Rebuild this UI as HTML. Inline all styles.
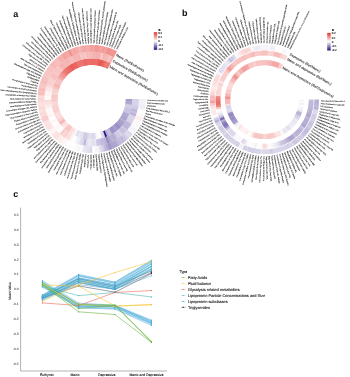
<!DOCTYPE html>
<html><head><meta charset="utf-8"><title>Figure</title>
<style>html,body{margin:0;padding:0;background:#fff}svg{display:block}text{stroke:#111;stroke-width:.1px}.rl text{stroke-width:.08px;stroke:#181818}.rw text{stroke-width:.05px}.pl text{stroke-width:0}.yt text{stroke:#4d4d4d;stroke-width:.08px}</style></head>
<body><svg width="350" height="377" viewBox="0 0 350 377" text-rendering="geometricPrecision">
<defs><filter id="bl" x="0" y="0" width="350" height="377" filterUnits="userSpaceOnUse"><feGaussianBlur stdDeviation="0.32"/></filter><filter id="bl2" x="0" y="0" width="350" height="377" filterUnits="userSpaceOnUse"><feGaussianBlur stdDeviation="0.25"/></filter><filter id="tx" x="0" y="0" width="350" height="377" filterUnits="userSpaceOnUse"><feGaussianBlur stdDeviation="0.15"/></filter></defs>
<rect width="350" height="377" fill="#fff"/>
<g filter="url(#bl)">
<path d="M132.30 99.00A40.6 40.6 0 0 1 132.20 101.88L125.61 101.41A34.0 34.0 0 0 0 125.70 99.00Z" fill="#a79dcc"/>
<path d="M132.25 100.92A40.6 40.6 0 0 1 132.02 103.79L125.46 103.01A34.0 34.0 0 0 0 125.66 100.61Z" fill="#aea5d0"/>
<path d="M132.12 102.83A40.6 40.6 0 0 1 131.75 105.69L125.24 104.60A34.0 34.0 0 0 0 125.55 102.21Z" fill="#b3aad2"/>
<path d="M131.89 104.74A40.6 40.6 0 0 1 131.38 107.57L124.93 106.18A34.0 34.0 0 0 0 125.36 103.81Z" fill="#d0cbe3"/>
<path d="M131.58 106.63A40.6 40.6 0 0 1 130.93 109.44L124.56 107.74A34.0 34.0 0 0 0 125.09 105.39Z" fill="#d2cde4"/>
<path d="M131.17 108.51A40.6 40.6 0 0 1 130.40 111.28L124.11 109.29A34.0 34.0 0 0 0 124.75 106.96Z" fill="#cac4e0"/>
<path d="M130.68 110.36A40.6 40.6 0 0 1 129.77 113.10L123.58 110.81A34.0 34.0 0 0 0 124.34 108.52Z" fill="#c9c3df"/>
<path d="M130.10 112.19A40.6 40.6 0 0 1 129.06 114.88L122.99 112.30A34.0 34.0 0 0 0 123.85 110.05Z" fill="#cac4e0"/>
<path d="M129.43 113.99A40.6 40.6 0 0 1 128.27 116.63L122.33 113.76A34.0 34.0 0 0 0 123.30 111.56Z" fill="#b5add4"/>
<path d="M128.68 115.76A40.6 40.6 0 0 1 127.40 118.34L121.60 115.19A34.0 34.0 0 0 0 122.67 113.04Z" fill="#b3aad2"/>
<path d="M127.85 117.49A40.6 40.6 0 0 1 126.44 120.00L120.80 116.59A34.0 34.0 0 0 0 121.97 114.48Z" fill="#b0a7d1"/>
<path d="M126.93 119.18A40.6 40.6 0 0 1 125.41 121.62L119.93 117.95A34.0 34.0 0 0 0 121.20 115.90Z" fill="#aba1ce"/>
<path d="M125.94 120.82A40.6 40.6 0 0 1 124.31 123.19L119.01 119.26A34.0 34.0 0 0 0 120.37 117.27Z" fill="#b8b0d5"/>
<path d="M124.87 122.41A40.6 40.6 0 0 1 123.13 124.71L118.02 120.53A34.0 34.0 0 0 0 119.48 118.61Z" fill="#aea5cf"/>
<path d="M123.72 123.96A40.6 40.6 0 0 1 121.88 126.16L116.97 121.75A34.0 34.0 0 0 0 118.52 119.90Z" fill="#a89ecc"/>
<path d="M122.51 125.44A40.6 40.6 0 0 1 120.56 127.56L115.87 122.92A34.0 34.0 0 0 0 117.50 121.14Z" fill="#aba2ce"/>
<path d="M121.23 126.87A40.6 40.6 0 0 1 119.18 128.89L114.71 124.03A34.0 34.0 0 0 0 116.43 122.34Z" fill="#9b90c4"/>
<path d="M119.88 128.23A40.6 40.6 0 0 1 117.73 130.16L113.50 125.09A34.0 34.0 0 0 0 115.30 123.48Z" fill="#9c91c5"/>
<path d="M118.46 129.53A40.6 40.6 0 0 1 116.23 131.35L112.24 126.09A34.0 34.0 0 0 0 114.11 124.57Z" fill="#a99fcc"/>
<path d="M116.99 130.76A40.6 40.6 0 0 1 114.67 132.47L110.94 127.03A34.0 34.0 0 0 0 112.88 125.60Z" fill="#a79dcb"/>
<path d="M115.46 131.92A40.6 40.6 0 0 1 113.07 133.52L109.59 127.91A34.0 34.0 0 0 0 111.60 126.57Z" fill="#9f94c7"/>
<path d="M113.88 133.01A40.6 40.6 0 0 1 111.41 134.49L108.21 128.72A34.0 34.0 0 0 0 110.27 127.48Z" fill="#a095c7"/>
<path d="M112.24 134.02A40.6 40.6 0 0 1 109.71 135.39L106.78 129.47A34.0 34.0 0 0 0 108.91 128.33Z" fill="#c2bbdb"/>
<path d="M110.57 134.95A40.6 40.6 0 0 1 107.97 136.20L105.33 130.15A34.0 34.0 0 0 0 107.50 129.11Z" fill="#c7c1de"/>
<path d="M108.85 135.80A40.6 40.6 0 0 1 106.20 136.92L103.84 130.76A34.0 34.0 0 0 0 106.06 129.82Z" fill="#b4acd3"/>
<path d="M107.09 136.57A40.6 40.6 0 0 1 104.39 137.57L102.32 131.30A34.0 34.0 0 0 0 104.59 130.46Z" fill="#2b1483"/>
<path d="M105.30 137.26A40.6 40.6 0 0 1 102.55 138.12L100.79 131.76A34.0 34.0 0 0 0 103.09 131.04Z" fill="#dad6e9"/>
<path d="M103.47 137.86A40.6 40.6 0 0 1 100.69 138.59L99.23 132.16A34.0 34.0 0 0 0 101.56 131.54Z" fill="#e6e3f0"/>
<path d="M101.62 138.37A40.6 40.6 0 0 1 98.81 138.97L97.65 132.47A34.0 34.0 0 0 0 100.01 131.97Z" fill="#ffffff"/>
<path d="M99.75 138.79A40.6 40.6 0 0 1 96.91 139.26L96.06 132.72A34.0 34.0 0 0 0 98.44 132.32Z" fill="#fef9f9"/>
<path d="M97.86 139.13A40.6 40.6 0 0 1 95.00 139.47L94.46 132.89A34.0 34.0 0 0 0 96.86 132.61Z" fill="#f7f6fa"/>
<path d="M95.96 139.38A40.6 40.6 0 0 1 93.08 139.58L92.86 132.98A34.0 34.0 0 0 0 95.26 132.81Z" fill="#e0dced"/>
<path d="M94.04 139.53A40.6 40.6 0 0 1 91.17 139.60L91.25 133.00A34.0 34.0 0 0 0 93.66 132.94Z" fill="#dbd7ea"/>
<path d="M92.13 139.60A40.6 40.6 0 0 1 89.25 139.53L89.65 132.94A34.0 34.0 0 0 0 92.06 133.00Z" fill="#dedbec"/>
<path d="M90.21 139.57A40.6 40.6 0 0 1 87.33 139.36L88.04 132.80A34.0 34.0 0 0 0 90.45 132.98Z" fill="#e6e3f0"/>
<path d="M88.29 139.46A40.6 40.6 0 0 1 85.43 139.11L86.45 132.59A34.0 34.0 0 0 0 88.84 132.88Z" fill="#d4cfe6"/>
<path d="M86.38 139.25A40.6 40.6 0 0 1 83.54 138.77L84.87 132.31A34.0 34.0 0 0 0 87.25 132.71Z" fill="#d3cee5"/>
<path d="M84.49 138.95A40.6 40.6 0 0 1 81.67 138.34L83.30 131.95A34.0 34.0 0 0 0 85.66 132.46Z" fill="#d0cae3"/>
<path d="M82.60 138.57A40.6 40.6 0 0 1 79.82 137.82L81.75 131.51A34.0 34.0 0 0 0 84.08 132.14Z" fill="#e6e3f0"/>
<path d="M80.74 138.09A40.6 40.6 0 0 1 78.00 137.22L80.23 131.01A34.0 34.0 0 0 0 82.53 131.74Z" fill="#e5e3f0"/>
<path d="M78.91 137.53A40.6 40.6 0 0 1 76.21 136.53L78.73 130.43A34.0 34.0 0 0 0 80.99 131.27Z" fill="#eae7f3"/>
<path d="M77.10 136.88A40.6 40.6 0 0 1 74.45 135.76L77.26 129.78A34.0 34.0 0 0 0 79.48 130.73Z" fill="#e0dded"/>
<path d="M75.33 136.15A40.6 40.6 0 0 1 72.74 134.90L75.82 129.06A34.0 34.0 0 0 0 77.99 130.11Z" fill="#f7f6fa"/>
<path d="M73.59 135.34A40.6 40.6 0 0 1 71.06 133.96L74.42 128.28A34.0 34.0 0 0 0 76.53 129.43Z" fill="#fdeeed"/>
<path d="M71.89 134.44A40.6 40.6 0 0 1 69.43 132.95L73.05 127.43A34.0 34.0 0 0 0 75.11 128.68Z" fill="#fbe2e1"/>
<path d="M70.24 133.46A40.6 40.6 0 0 1 67.85 131.86L71.73 126.52A34.0 34.0 0 0 0 73.73 127.86Z" fill="#fbe0df"/>
<path d="M68.63 132.41A40.6 40.6 0 0 1 66.33 130.69L70.45 125.54A34.0 34.0 0 0 0 72.38 126.98Z" fill="#f8c8c6"/>
<path d="M67.08 131.28A40.6 40.6 0 0 1 64.86 129.46L69.22 124.51A34.0 34.0 0 0 0 71.08 126.04Z" fill="#f7c5c3"/>
<path d="M65.58 130.08A40.6 40.6 0 0 1 63.45 128.16L68.04 123.42A34.0 34.0 0 0 0 69.83 125.03Z" fill="#f8cac8"/>
<path d="M64.14 128.82A40.6 40.6 0 0 1 62.10 126.79L66.91 122.27A34.0 34.0 0 0 0 68.62 123.97Z" fill="#fce8e7"/>
<path d="M62.76 127.48A40.6 40.6 0 0 1 60.82 125.36L65.84 121.07A34.0 34.0 0 0 0 67.47 122.85Z" fill="#fbe3e2"/>
<path d="M61.45 126.08A40.6 40.6 0 0 1 59.61 123.87L64.82 119.83A34.0 34.0 0 0 0 66.37 121.68Z" fill="#f9d6d5"/>
<path d="M60.20 124.62A40.6 40.6 0 0 1 58.47 122.32L63.87 118.53A34.0 34.0 0 0 0 65.32 120.46Z" fill="#f5b2b0"/>
<path d="M59.03 123.10A40.6 40.6 0 0 1 57.40 120.73L62.98 117.20A34.0 34.0 0 0 0 64.34 119.18Z" fill="#f8cdcb"/>
<path d="M57.93 121.53A40.6 40.6 0 0 1 56.41 119.08L62.15 115.82A34.0 34.0 0 0 0 63.42 117.87Z" fill="#f9d3d2"/>
<path d="M56.90 119.91A40.6 40.6 0 0 1 55.50 117.39L61.39 114.40A34.0 34.0 0 0 0 62.56 116.51Z" fill="#fbdfde"/>
<path d="M55.95 118.24A40.6 40.6 0 0 1 54.68 115.66L60.69 112.95A34.0 34.0 0 0 0 61.76 115.11Z" fill="#fadcdb"/>
<path d="M55.08 116.53A40.6 40.6 0 0 1 53.93 113.89L60.07 111.47A34.0 34.0 0 0 0 61.03 113.68Z" fill="#fbdedd"/>
<path d="M54.29 114.78A40.6 40.6 0 0 1 53.27 112.09L59.52 109.96A34.0 34.0 0 0 0 60.37 112.22Z" fill="#fadcdb"/>
<path d="M53.59 112.99A40.6 40.6 0 0 1 52.69 110.26L59.03 108.43A34.0 34.0 0 0 0 59.78 110.72Z" fill="#f8cfcd"/>
<path d="M52.97 111.18A40.6 40.6 0 0 1 52.20 108.40L58.62 106.87A34.0 34.0 0 0 0 59.27 109.20Z" fill="#f9d3d2"/>
<path d="M52.44 109.33A40.6 40.6 0 0 1 51.80 106.53L58.29 105.30A34.0 34.0 0 0 0 58.82 107.65Z" fill="#f9d1d0"/>
<path d="M51.99 107.47A40.6 40.6 0 0 1 51.49 104.63L58.03 103.72A34.0 34.0 0 0 0 58.45 106.09Z" fill="#f9d2d1"/>
<path d="M51.64 105.58A40.6 40.6 0 0 1 51.27 102.72L57.84 102.12A34.0 34.0 0 0 0 58.15 104.51Z" fill="#fadad9"/>
<path d="M51.37 103.68A40.6 40.6 0 0 1 51.14 100.81L57.73 100.52A34.0 34.0 0 0 0 57.93 102.92Z" fill="#fad8d7"/>
<path d="M51.19 101.77A40.6 40.6 0 0 1 51.10 98.89L57.70 98.91A34.0 34.0 0 0 0 57.78 101.32Z" fill="#f8cbc9"/>
<path d="M51.11 99.85A40.6 40.6 0 0 1 51.15 96.97L57.74 97.30A34.0 34.0 0 0 0 57.71 99.71Z" fill="#f8cbc9"/>
<path d="M51.11 97.93A40.6 40.6 0 0 1 51.29 95.06L57.86 95.70A34.0 34.0 0 0 0 57.71 98.10Z" fill="#f8cac8"/>
<path d="M51.21 96.01A40.6 40.6 0 0 1 51.52 93.15L58.05 94.10A34.0 34.0 0 0 0 57.79 96.50Z" fill="#f8c8c6"/>
<path d="M51.40 94.10A40.6 40.6 0 0 1 51.84 91.26L58.32 92.52A34.0 34.0 0 0 0 57.95 94.90Z" fill="#fadad9"/>
<path d="M51.67 92.20A40.6 40.6 0 0 1 52.26 89.38L58.67 90.95A34.0 34.0 0 0 0 58.18 93.31Z" fill="#f9d3d2"/>
<path d="M52.04 90.32A40.6 40.6 0 0 1 52.75 87.53L59.08 89.40A34.0 34.0 0 0 0 58.49 91.73Z" fill="#f9d2d0"/>
<path d="M52.49 88.45A40.6 40.6 0 0 1 53.34 85.70L59.58 87.86A34.0 34.0 0 0 0 58.87 90.17Z" fill="#f7c7c5"/>
<path d="M53.04 86.61A40.6 40.6 0 0 1 54.01 83.90L60.14 86.36A34.0 34.0 0 0 0 59.32 88.63Z" fill="#f5b8b6"/>
<path d="M53.66 84.80A40.6 40.6 0 0 1 54.77 82.14L60.77 84.88A34.0 34.0 0 0 0 59.85 87.11Z" fill="#f5b6b4"/>
<path d="M54.38 83.02A40.6 40.6 0 0 1 55.60 80.41L61.47 83.43A34.0 34.0 0 0 0 60.45 85.62Z" fill="#f7c6c4"/>
<path d="M55.18 81.27A40.6 40.6 0 0 1 56.52 78.73L62.24 82.02A34.0 34.0 0 0 0 61.11 84.15Z" fill="#f7c1bf"/>
<path d="M56.05 79.57A40.6 40.6 0 0 1 57.52 77.09L63.08 80.65A34.0 34.0 0 0 0 61.85 82.72Z" fill="#f7c6c4"/>
<path d="M57.01 77.90A40.6 40.6 0 0 1 58.59 75.50L63.98 79.32A34.0 34.0 0 0 0 62.65 81.33Z" fill="#f5b1af"/>
<path d="M58.05 76.29A40.6 40.6 0 0 1 59.74 73.96L64.94 78.03A34.0 34.0 0 0 0 63.52 79.98Z" fill="#f3a4a2"/>
<path d="M59.16 74.72A40.6 40.6 0 0 1 60.96 72.48L65.96 76.79A34.0 34.0 0 0 0 64.45 78.67Z" fill="#f19996"/>
<path d="M60.34 73.21A40.6 40.6 0 0 1 62.25 71.05L67.04 75.60A34.0 34.0 0 0 0 65.44 77.40Z" fill="#f09390"/>
<path d="M61.60 71.76A40.6 40.6 0 0 1 63.60 69.69L68.17 74.46A34.0 34.0 0 0 0 66.49 76.19Z" fill="#ee817d"/>
<path d="M62.92 70.36A40.6 40.6 0 0 1 65.02 68.40L69.36 73.37A34.0 34.0 0 0 0 67.60 75.02Z" fill="#ed7874"/>
<path d="M64.30 69.04A40.6 40.6 0 0 1 66.50 67.17L70.59 72.34A34.0 34.0 0 0 0 68.76 73.91Z" fill="#ec706c"/>
<path d="M65.75 67.77A40.6 40.6 0 0 1 68.03 66.01L71.88 71.38A34.0 34.0 0 0 0 69.97 72.85Z" fill="#eb6d69"/>
<path d="M67.26 66.58A40.6 40.6 0 0 1 69.61 64.93L73.20 70.47A34.0 34.0 0 0 0 71.23 71.85Z" fill="#eb6a66"/>
<path d="M68.82 65.46A40.6 40.6 0 0 1 71.25 63.93L74.57 69.63A34.0 34.0 0 0 0 72.54 70.92Z" fill="#ea605c"/>
<path d="M70.43 64.42A40.6 40.6 0 0 1 72.93 63.00L75.98 68.85A34.0 34.0 0 0 0 73.88 70.04Z" fill="#e95c57"/>
<path d="M72.08 63.45A40.6 40.6 0 0 1 74.65 62.15L77.42 68.14A34.0 34.0 0 0 0 75.27 69.23Z" fill="#ea6763"/>
<path d="M73.79 62.57A40.6 40.6 0 0 1 76.41 61.39L78.90 67.50A34.0 34.0 0 0 0 76.70 68.49Z" fill="#ea635f"/>
<path d="M75.53 61.76A40.6 40.6 0 0 1 78.21 60.71L80.40 66.93A34.0 34.0 0 0 0 78.16 67.81Z" fill="#ec746f"/>
<path d="M77.31 61.04A40.6 40.6 0 0 1 80.03 60.11L81.93 66.43A34.0 34.0 0 0 0 79.65 67.21Z" fill="#ec7470"/>
<path d="M79.12 60.40A40.6 40.6 0 0 1 81.88 59.60L83.48 66.01A34.0 34.0 0 0 0 81.16 66.67Z" fill="#ec7571"/>
<path d="M80.96 59.85A40.6 40.6 0 0 1 83.76 59.18L85.05 65.66A34.0 34.0 0 0 0 82.70 66.21Z" fill="#ec726e"/>
<path d="M82.82 59.38A40.6 40.6 0 0 1 85.65 58.85L86.63 65.38A34.0 34.0 0 0 0 84.26 65.82Z" fill="#eb6964"/>
<path d="M84.70 59.01A40.6 40.6 0 0 1 87.55 58.61L88.23 65.18A34.0 34.0 0 0 0 85.84 65.51Z" fill="#eb6864"/>
<path d="M86.60 58.72A40.6 40.6 0 0 1 89.47 58.46L89.83 65.05A34.0 34.0 0 0 0 87.43 65.27Z" fill="#eb6e6a"/>
<path d="M88.51 58.53A40.6 40.6 0 0 1 91.38 58.40L91.44 65.00A34.0 34.0 0 0 0 89.03 65.11Z" fill="#eb6e6a"/>
<path d="M90.42 58.42A40.6 40.6 0 0 1 93.30 58.43L93.04 65.03A34.0 34.0 0 0 0 90.63 65.02Z" fill="#eb6b67"/>
<path d="M92.34 58.41A40.6 40.6 0 0 1 95.22 58.55L94.65 65.13A34.0 34.0 0 0 0 92.24 65.00Z" fill="#eb6c68"/>
<path d="M94.26 58.48A40.6 40.6 0 0 1 97.13 58.76L96.24 65.31A34.0 34.0 0 0 0 93.85 65.07Z" fill="#eb6d69"/>
<path d="M96.17 58.65A40.6 40.6 0 0 1 99.02 59.07L97.83 65.56A34.0 34.0 0 0 0 95.45 65.21Z" fill="#eb6f6b"/>
<path d="M98.08 58.90A40.6 40.6 0 0 1 100.90 59.46L99.41 65.88A34.0 34.0 0 0 0 97.04 65.42Z" fill="#e95e59"/>
<path d="M99.96 59.25A40.6 40.6 0 0 1 102.76 59.94L100.96 66.29A34.0 34.0 0 0 0 98.62 65.71Z" fill="#e95954"/>
<path d="M101.83 59.69A40.6 40.6 0 0 1 104.59 60.50L102.50 66.76A34.0 34.0 0 0 0 100.19 66.08Z" fill="#e95d58"/>
<path d="M103.68 60.21A40.6 40.6 0 0 1 106.40 61.15L104.01 67.31A34.0 34.0 0 0 0 101.73 66.51Z" fill="#eb6864"/>
<path d="M105.50 60.82A40.6 40.6 0 0 1 108.17 61.89L105.49 67.92A34.0 34.0 0 0 0 103.26 67.02Z" fill="#ed7875"/>
<path d="M107.29 61.51A40.6 40.6 0 0 1 109.91 62.71L106.95 68.61A34.0 34.0 0 0 0 104.76 67.61Z" fill="#ed7d79"/>
<path d="M109.04 62.29A40.6 40.6 0 0 1 110.76 63.15L107.66 68.98A34.0 34.0 0 0 0 106.23 68.26Z" fill="#ed7d79"/>
<path d="M139.00 99.00A47.3 47.3 0 0 1 138.88 102.35L132.20 101.88A40.6 40.6 0 0 0 132.30 99.00Z" fill="#d7d2e7"/>
<path d="M138.95 101.24A47.3 47.3 0 0 1 138.67 104.58L132.02 103.79A40.6 40.6 0 0 0 132.25 100.92Z" fill="#d8d3e8"/>
<path d="M138.79 103.47A47.3 47.3 0 0 1 138.35 106.79L131.75 105.69A40.6 40.6 0 0 0 132.12 102.83Z" fill="#d7d3e8"/>
<path d="M138.52 105.69A47.3 47.3 0 0 1 137.93 108.99L131.38 107.57A40.6 40.6 0 0 0 131.89 104.74Z" fill="#d2cde5"/>
<path d="M138.16 107.89A47.3 47.3 0 0 1 137.41 111.16L130.93 109.44A40.6 40.6 0 0 0 131.58 106.63Z" fill="#d0cbe4"/>
<path d="M137.68 110.08A47.3 47.3 0 0 1 136.78 113.31L130.40 111.28A40.6 40.6 0 0 0 131.17 108.51Z" fill="#bdb5d8"/>
<path d="M137.11 112.24A47.3 47.3 0 0 1 136.06 115.42L129.77 113.10A40.6 40.6 0 0 0 130.68 110.36Z" fill="#c6bfdd"/>
<path d="M136.43 114.37A47.3 47.3 0 0 1 135.23 117.50L129.06 114.88A40.6 40.6 0 0 0 130.10 112.19Z" fill="#bab3d7"/>
<path d="M135.66 116.47A47.3 47.3 0 0 1 134.31 119.54L128.27 116.63A40.6 40.6 0 0 0 129.43 113.99Z" fill="#d9d5e9"/>
<path d="M134.78 118.53A47.3 47.3 0 0 1 133.29 121.53L127.40 118.34A40.6 40.6 0 0 0 128.68 115.76Z" fill="#d8d4e8"/>
<path d="M133.81 120.54A47.3 47.3 0 0 1 132.18 123.47L126.44 120.00A40.6 40.6 0 0 0 127.85 117.49Z" fill="#d7d3e8"/>
<path d="M132.75 122.51A47.3 47.3 0 0 1 130.98 125.36L125.41 121.62A40.6 40.6 0 0 0 126.93 119.18Z" fill="#d4cfe6"/>
<path d="M131.59 124.42A47.3 47.3 0 0 1 129.69 127.18L124.31 123.19A40.6 40.6 0 0 0 125.94 120.82Z" fill="#beb7d9"/>
<path d="M130.34 126.28A47.3 47.3 0 0 1 128.31 128.95L123.13 124.71A40.6 40.6 0 0 0 124.87 122.41Z" fill="#c1bbdb"/>
<path d="M129.01 128.07A47.3 47.3 0 0 1 126.86 130.64L121.88 126.16A40.6 40.6 0 0 0 123.72 123.96Z" fill="#bcb4d8"/>
<path d="M127.59 129.80A47.3 47.3 0 0 1 125.32 132.27L120.56 127.56A40.6 40.6 0 0 0 122.51 125.44Z" fill="#cfcae3"/>
<path d="M126.10 131.47A47.3 47.3 0 0 1 123.71 133.82L119.18 128.89A40.6 40.6 0 0 0 121.23 126.87Z" fill="#c6bfde"/>
<path d="M124.52 133.06A47.3 47.3 0 0 1 122.03 135.30L117.73 130.16A40.6 40.6 0 0 0 119.88 128.23Z" fill="#cac4e0"/>
<path d="M122.88 134.57A47.3 47.3 0 0 1 120.28 136.69L116.23 131.35A40.6 40.6 0 0 0 118.46 129.53Z" fill="#d8d3e8"/>
<path d="M121.16 136.00A47.3 47.3 0 0 1 118.47 138.00L114.67 132.47A40.6 40.6 0 0 0 116.99 130.76Z" fill="#d1cce4"/>
<path d="M119.38 137.35A47.3 47.3 0 0 1 116.59 139.22L113.07 133.52A40.6 40.6 0 0 0 115.46 131.92Z" fill="#d0cbe3"/>
<path d="M117.54 138.62A47.3 47.3 0 0 1 114.66 140.35L111.41 134.49A40.6 40.6 0 0 0 113.88 133.01Z" fill="#bab2d7"/>
<path d="M115.64 139.80A47.3 47.3 0 0 1 112.68 141.39L109.71 135.39A40.6 40.6 0 0 0 112.24 134.02Z" fill="#b5add4"/>
<path d="M113.68 140.88A47.3 47.3 0 0 1 110.66 142.33L107.97 136.20A40.6 40.6 0 0 0 110.57 134.95Z" fill="#bbb3d7"/>
<path d="M111.68 141.87A47.3 47.3 0 0 1 108.59 143.18L106.20 136.92A40.6 40.6 0 0 0 108.85 135.80Z" fill="#afa6d0"/>
<path d="M109.63 142.77A47.3 47.3 0 0 1 106.48 143.93L104.39 137.57A40.6 40.6 0 0 0 107.09 136.57Z" fill="#988cc3"/>
<path d="M107.54 143.57A47.3 47.3 0 0 1 104.34 144.58L102.55 138.12A40.6 40.6 0 0 0 105.30 137.26Z" fill="#bbb3d7"/>
<path d="M105.41 144.27A47.3 47.3 0 0 1 102.17 145.13L100.69 138.59A40.6 40.6 0 0 0 103.47 137.86Z" fill="#c3bddc"/>
<path d="M103.26 144.87A47.3 47.3 0 0 1 99.98 145.57L98.81 138.97A40.6 40.6 0 0 0 101.62 138.37Z" fill="#c1badb"/>
<path d="M101.08 145.36A47.3 47.3 0 0 1 97.77 145.91L96.91 139.26A40.6 40.6 0 0 0 99.75 138.79Z" fill="#cbc6e1"/>
<path d="M98.88 145.75A47.3 47.3 0 0 1 95.55 146.14L95.00 139.47A40.6 40.6 0 0 0 97.86 139.13Z" fill="#ccc6e1"/>
<path d="M96.66 146.04A47.3 47.3 0 0 1 93.31 146.27L93.08 139.58A40.6 40.6 0 0 0 95.96 139.38Z" fill="#e9e6f2"/>
<path d="M94.43 146.22A47.3 47.3 0 0 1 91.08 146.30L91.17 139.60A40.6 40.6 0 0 0 94.04 139.53Z" fill="#e0dded"/>
<path d="M92.20 146.30A47.3 47.3 0 0 1 88.84 146.21L89.25 139.53A40.6 40.6 0 0 0 92.13 139.60Z" fill="#e9e7f2"/>
<path d="M89.96 146.27A47.3 47.3 0 0 1 86.61 146.03L87.33 139.36A40.6 40.6 0 0 0 90.21 139.57Z" fill="#eae8f3"/>
<path d="M87.73 146.13A47.3 47.3 0 0 1 84.40 145.73L85.43 139.11A40.6 40.6 0 0 0 88.29 139.46Z" fill="#e4e1ef"/>
<path d="M85.50 145.89A47.3 47.3 0 0 1 82.20 145.34L83.54 138.77A40.6 40.6 0 0 0 86.38 139.25Z" fill="#beb7d9"/>
<path d="M83.29 145.55A47.3 47.3 0 0 1 80.02 144.83L81.67 138.34A40.6 40.6 0 0 0 84.49 138.95Z" fill="#dad6ea"/>
<path d="M81.10 145.10A47.3 47.3 0 0 1 77.86 144.23L79.82 137.82A40.6 40.6 0 0 0 82.60 138.57Z" fill="#e2dfee"/>
<path d="M78.94 144.55A47.3 47.3 0 0 1 75.74 143.53L78.00 137.22A40.6 40.6 0 0 0 80.74 138.09Z" fill="#eeecf5"/>
<path d="M76.80 143.89A47.3 47.3 0 0 1 73.65 142.72L76.21 136.53A40.6 40.6 0 0 0 78.91 137.53Z" fill="#f2f0f7"/>
<path d="M74.69 143.14A47.3 47.3 0 0 1 71.61 141.82L74.45 135.76A40.6 40.6 0 0 0 77.10 136.88Z" fill="#ffffff"/>
<path d="M72.63 142.28A47.3 47.3 0 0 1 69.61 140.82L72.74 134.90A40.6 40.6 0 0 0 75.33 136.15Z" fill="#fffefe"/>
<path d="M70.60 141.33A47.3 47.3 0 0 1 67.65 139.73L71.06 133.96A40.6 40.6 0 0 0 73.59 135.34Z" fill="#fdf0ef"/>
<path d="M68.62 140.29A47.3 47.3 0 0 1 65.76 138.55L69.43 132.95A40.6 40.6 0 0 0 71.89 134.44Z" fill="#fbdedd"/>
<path d="M66.70 139.15A47.3 47.3 0 0 1 63.92 137.28L67.85 131.86A40.6 40.6 0 0 0 70.24 133.46Z" fill="#fbdedd"/>
<path d="M64.83 137.93A47.3 47.3 0 0 1 62.14 135.92L66.33 130.69A40.6 40.6 0 0 0 68.63 132.41Z" fill="#f9d0cf"/>
<path d="M63.02 136.61A47.3 47.3 0 0 1 60.43 134.49L64.86 129.46A40.6 40.6 0 0 0 67.08 131.28Z" fill="#fad9d8"/>
<path d="M61.27 135.21A47.3 47.3 0 0 1 58.78 132.97L63.45 128.16A40.6 40.6 0 0 0 65.58 130.08Z" fill="#f8cbc9"/>
<path d="M59.60 133.74A47.3 47.3 0 0 1 57.21 131.37L62.10 126.79A40.6 40.6 0 0 0 64.14 128.82Z" fill="#fefafa"/>
<path d="M57.99 132.18A47.3 47.3 0 0 1 55.72 129.71L60.82 125.36A40.6 40.6 0 0 0 62.76 127.48Z" fill="#fffdfd"/>
<path d="M56.46 130.55A47.3 47.3 0 0 1 54.31 127.97L59.61 123.87A40.6 40.6 0 0 0 61.45 126.08Z" fill="#fef6f6"/>
<path d="M55.01 128.85A47.3 47.3 0 0 1 52.98 126.17L58.47 122.32A40.6 40.6 0 0 0 60.20 124.62Z" fill="#fef8f7"/>
<path d="M53.64 127.08A47.3 47.3 0 0 1 51.74 124.31L57.40 120.73A40.6 40.6 0 0 0 59.03 123.10Z" fill="#fefefe"/>
<path d="M52.35 125.25A47.3 47.3 0 0 1 50.59 122.40L56.41 119.08A40.6 40.6 0 0 0 57.93 121.53Z" fill="#fcfbfd"/>
<path d="M51.16 123.36A47.3 47.3 0 0 1 49.53 120.43L55.50 117.39A40.6 40.6 0 0 0 56.90 119.91Z" fill="#fef6f5"/>
<path d="M50.05 121.42A47.3 47.3 0 0 1 48.57 118.41L54.68 115.66A40.6 40.6 0 0 0 55.95 118.24Z" fill="#fefeff"/>
<path d="M49.04 119.42A47.3 47.3 0 0 1 47.70 116.35L53.93 113.89A40.6 40.6 0 0 0 55.08 116.53Z" fill="#fffcfc"/>
<path d="M48.12 117.38A47.3 47.3 0 0 1 46.93 114.25L53.27 112.09A40.6 40.6 0 0 0 54.29 114.78Z" fill="#fdf2f1"/>
<path d="M47.30 115.30A47.3 47.3 0 0 1 46.26 112.12L52.69 110.26A40.6 40.6 0 0 0 53.59 112.99Z" fill="#fef9f9"/>
<path d="M46.58 113.19A47.3 47.3 0 0 1 45.69 109.95L52.20 108.40A40.6 40.6 0 0 0 52.97 111.18Z" fill="#fef9f9"/>
<path d="M45.96 111.04A47.3 47.3 0 0 1 45.22 107.77L51.80 106.53A40.6 40.6 0 0 0 52.44 109.33Z" fill="#fef9f8"/>
<path d="M45.44 108.86A47.3 47.3 0 0 1 44.86 105.56L51.49 104.63A40.6 40.6 0 0 0 51.99 107.47Z" fill="#fdefee"/>
<path d="M45.03 106.67A47.3 47.3 0 0 1 44.60 103.34L51.27 102.72A40.6 40.6 0 0 0 51.64 105.58Z" fill="#fce9e8"/>
<path d="M44.72 104.45A47.3 47.3 0 0 1 44.45 101.11L51.14 100.81A40.6 40.6 0 0 0 51.37 103.68Z" fill="#fbe2e1"/>
<path d="M44.51 102.22A47.3 47.3 0 0 1 44.40 98.87L51.10 98.89A40.6 40.6 0 0 0 51.19 101.77Z" fill="#fadcdb"/>
<path d="M44.41 99.99A47.3 47.3 0 0 1 44.46 96.64L51.15 96.97A40.6 40.6 0 0 0 51.11 99.85Z" fill="#fffcfc"/>
<path d="M44.42 97.75A47.3 47.3 0 0 1 44.62 94.41L51.29 95.06A40.6 40.6 0 0 0 51.11 97.93Z" fill="#fefafa"/>
<path d="M44.53 95.52A47.3 47.3 0 0 1 44.89 92.19L51.52 93.15A40.6 40.6 0 0 0 51.21 96.01Z" fill="#fef4f4"/>
<path d="M44.75 93.30A47.3 47.3 0 0 1 45.27 89.98L51.84 91.26A40.6 40.6 0 0 0 51.40 94.10Z" fill="#fef4f4"/>
<path d="M45.07 91.08A47.3 47.3 0 0 1 45.75 87.80L52.26 89.38A40.6 40.6 0 0 0 51.67 92.20Z" fill="#fceaea"/>
<path d="M45.49 88.89A47.3 47.3 0 0 1 46.33 85.64L52.75 87.53A40.6 40.6 0 0 0 52.04 90.32Z" fill="#fce5e5"/>
<path d="M46.02 86.71A47.3 47.3 0 0 1 47.01 83.51L53.34 85.70A40.6 40.6 0 0 0 52.49 88.45Z" fill="#fad9d8"/>
<path d="M46.66 84.57A47.3 47.3 0 0 1 47.79 81.41L54.01 83.90A40.6 40.6 0 0 0 53.04 86.61Z" fill="#f9d0cf"/>
<path d="M47.39 82.46A47.3 47.3 0 0 1 48.67 79.36L54.77 82.14A40.6 40.6 0 0 0 53.66 84.80Z" fill="#f9cfce"/>
<path d="M48.22 80.38A47.3 47.3 0 0 1 49.65 77.35L55.60 80.41A40.6 40.6 0 0 0 54.38 83.02Z" fill="#f9d3d2"/>
<path d="M49.15 78.35A47.3 47.3 0 0 1 50.72 75.38L56.52 78.73A40.6 40.6 0 0 0 55.18 81.27Z" fill="#f8cac8"/>
<path d="M50.17 76.36A47.3 47.3 0 0 1 51.88 73.47L57.52 77.09A40.6 40.6 0 0 0 56.05 79.57Z" fill="#f6c0be"/>
<path d="M51.29 74.42A47.3 47.3 0 0 1 53.13 71.62L58.59 75.50A40.6 40.6 0 0 0 57.01 77.90Z" fill="#f7c1bf"/>
<path d="M52.49 72.54A47.3 47.3 0 0 1 54.47 69.83L59.74 73.96A40.6 40.6 0 0 0 58.05 76.29Z" fill="#f8c9c8"/>
<path d="M53.79 70.71A47.3 47.3 0 0 1 55.89 68.10L60.96 72.48A40.6 40.6 0 0 0 59.16 74.72Z" fill="#f7c5c4"/>
<path d="M55.17 68.95A47.3 47.3 0 0 1 57.39 66.44L62.25 71.05A40.6 40.6 0 0 0 60.34 73.21Z" fill="#f7c2c1"/>
<path d="M56.63 67.26A47.3 47.3 0 0 1 58.97 64.86L63.60 69.69A40.6 40.6 0 0 0 61.60 71.76Z" fill="#f8c8c6"/>
<path d="M58.17 65.64A47.3 47.3 0 0 1 60.62 63.35L65.02 68.40A40.6 40.6 0 0 0 62.92 70.36Z" fill="#f5b5b3"/>
<path d="M59.78 64.09A47.3 47.3 0 0 1 62.34 61.92L66.50 67.17A40.6 40.6 0 0 0 64.30 69.04Z" fill="#f5b1af"/>
<path d="M61.47 62.62A47.3 47.3 0 0 1 64.12 60.57L68.03 66.01A40.6 40.6 0 0 0 65.75 67.77Z" fill="#f5b8b6"/>
<path d="M63.22 61.23A47.3 47.3 0 0 1 65.97 59.31L69.61 64.93A40.6 40.6 0 0 0 67.26 66.58Z" fill="#f5b6b4"/>
<path d="M65.04 59.93A47.3 47.3 0 0 1 67.87 58.14L71.25 63.93A40.6 40.6 0 0 0 68.82 65.46Z" fill="#f5b5b3"/>
<path d="M66.92 58.71A47.3 47.3 0 0 1 69.83 57.06L72.93 63.00A40.6 40.6 0 0 0 70.43 64.42Z" fill="#f6bab8"/>
<path d="M68.85 57.59A47.3 47.3 0 0 1 71.84 56.07L74.65 62.15A40.6 40.6 0 0 0 72.08 63.45Z" fill="#f6bdbb"/>
<path d="M70.83 56.55A47.3 47.3 0 0 1 73.89 55.18L76.41 61.39A40.6 40.6 0 0 0 73.79 62.57Z" fill="#f6bcba"/>
<path d="M72.86 55.61A47.3 47.3 0 0 1 75.98 54.39L78.21 60.71A40.6 40.6 0 0 0 75.53 61.76Z" fill="#f5b3b1"/>
<path d="M74.93 54.77A47.3 47.3 0 0 1 78.11 53.69L80.03 60.11A40.6 40.6 0 0 0 77.31 61.04Z" fill="#f5b5b3"/>
<path d="M77.04 54.03A47.3 47.3 0 0 1 80.26 53.10L81.88 59.60A40.6 40.6 0 0 0 79.12 60.40Z" fill="#f5b2b0"/>
<path d="M79.18 53.39A47.3 47.3 0 0 1 82.45 52.61L83.76 59.18A40.6 40.6 0 0 0 80.96 59.85Z" fill="#f8c8c7"/>
<path d="M81.35 52.85A47.3 47.3 0 0 1 84.65 52.23L85.65 58.85A40.6 40.6 0 0 0 82.82 59.38Z" fill="#f7c1bf"/>
<path d="M83.55 52.41A47.3 47.3 0 0 1 86.87 51.95L87.55 58.61A40.6 40.6 0 0 0 84.70 59.01Z" fill="#f8c9c8"/>
<path d="M85.76 52.07A47.3 47.3 0 0 1 89.10 51.77L89.47 58.46A40.6 40.6 0 0 0 86.60 58.72Z" fill="#f6bab8"/>
<path d="M87.98 51.85A47.3 47.3 0 0 1 91.33 51.70L91.38 58.40A40.6 40.6 0 0 0 88.51 58.53Z" fill="#f6bfbd"/>
<path d="M90.21 51.72A47.3 47.3 0 0 1 93.57 51.74L93.30 58.43A40.6 40.6 0 0 0 90.42 58.42Z" fill="#f6b9b7"/>
<path d="M92.45 51.71A47.3 47.3 0 0 1 95.80 51.88L95.22 58.55A40.6 40.6 0 0 0 92.34 58.41Z" fill="#f5b4b2"/>
<path d="M94.68 51.79A47.3 47.3 0 0 1 98.02 52.12L97.13 58.76A40.6 40.6 0 0 0 94.26 58.48Z" fill="#f5b5b3"/>
<path d="M96.91 51.99A47.3 47.3 0 0 1 100.23 52.48L99.02 59.07A40.6 40.6 0 0 0 96.17 58.65Z" fill="#f4adaa"/>
<path d="M99.13 52.29A47.3 47.3 0 0 1 102.42 52.93L100.90 59.46A40.6 40.6 0 0 0 98.08 58.90Z" fill="#f5b2b0"/>
<path d="M101.33 52.69A47.3 47.3 0 0 1 104.59 53.49L102.76 59.94A40.6 40.6 0 0 0 99.96 59.25Z" fill="#f8cac9"/>
<path d="M103.51 53.20A47.3 47.3 0 0 1 106.72 54.15L104.59 60.50A40.6 40.6 0 0 0 101.83 59.69Z" fill="#f5b3b0"/>
<path d="M105.66 53.81A47.3 47.3 0 0 1 108.83 54.91L106.40 61.15A40.6 40.6 0 0 0 103.68 60.21Z" fill="#f5b7b5"/>
<path d="M107.78 54.52A47.3 47.3 0 0 1 110.89 55.77L108.17 61.89A40.6 40.6 0 0 0 105.50 60.82Z" fill="#f6bab8"/>
<path d="M109.86 55.33A47.3 47.3 0 0 1 112.91 56.72L109.91 62.71A40.6 40.6 0 0 0 107.29 61.51Z" fill="#f7c7c6"/>
<path d="M111.91 56.23A47.3 47.3 0 0 1 113.91 57.24L110.76 63.15A40.6 40.6 0 0 0 109.04 62.29Z" fill="#f5b4b2"/>
<path d="M145.70 99.00A54.0 54.0 0 0 1 145.56 102.83L138.88 102.35A47.3 47.3 0 0 0 139.00 99.00Z" fill="#f0eef6"/>
<path d="M145.64 101.55A54.0 54.0 0 0 1 145.32 105.37L138.67 104.58A47.3 47.3 0 0 0 138.95 101.24Z" fill="#f4f3f9"/>
<path d="M145.46 104.10A54.0 54.0 0 0 1 144.96 107.90L138.35 106.79A47.3 47.3 0 0 0 138.79 103.47Z" fill="#f1eff7"/>
<path d="M145.16 106.63A54.0 54.0 0 0 1 144.48 110.40L137.93 108.99A47.3 47.3 0 0 0 138.52 105.69Z" fill="#eeecf5"/>
<path d="M144.74 109.15A54.0 54.0 0 0 1 143.88 112.89L137.41 111.16A47.3 47.3 0 0 0 138.16 107.89Z" fill="#f9f9fc"/>
<path d="M144.20 111.65A54.0 54.0 0 0 1 143.17 115.34L136.78 113.31A47.3 47.3 0 0 0 137.68 110.08Z" fill="#ffffff"/>
<path d="M143.54 114.11A54.0 54.0 0 0 1 142.34 117.75L136.06 115.42A47.3 47.3 0 0 0 137.11 112.24Z" fill="#fefafa"/>
<path d="M142.77 116.55A54.0 54.0 0 0 1 141.40 120.12L135.23 117.50A47.3 47.3 0 0 0 136.43 114.37Z" fill="#fdf3f2"/>
<path d="M141.88 118.94A54.0 54.0 0 0 1 140.34 122.45L134.31 119.54A47.3 47.3 0 0 0 135.66 116.47Z" fill="#fdefee"/>
<path d="M140.88 121.29A54.0 54.0 0 0 1 139.18 124.72L133.29 121.53A47.3 47.3 0 0 0 134.78 118.53Z" fill="#fefafa"/>
<path d="M139.78 123.59A54.0 54.0 0 0 1 137.91 126.94L132.18 123.47A47.3 47.3 0 0 0 133.81 120.54Z" fill="#fef8f7"/>
<path d="M138.56 125.84A54.0 54.0 0 0 1 136.54 129.09L130.98 125.36A47.3 47.3 0 0 0 132.75 122.51Z" fill="#fafafc"/>
<path d="M137.24 128.02A54.0 54.0 0 0 1 135.07 131.18L129.69 127.18A47.3 47.3 0 0 0 131.59 124.42Z" fill="#f8f8fb"/>
<path d="M135.82 130.14A54.0 54.0 0 0 1 133.50 133.19L128.31 128.95A47.3 47.3 0 0 0 130.34 126.28Z" fill="#f2f1f7"/>
<path d="M134.29 132.19A54.0 54.0 0 0 1 131.84 135.13L126.86 130.64A47.3 47.3 0 0 0 129.01 128.07Z" fill="#f9f8fb"/>
<path d="M132.68 134.17A54.0 54.0 0 0 1 130.08 136.98L125.32 132.27A47.3 47.3 0 0 0 127.59 129.80Z" fill="#dcd8ea"/>
<path d="M130.97 136.07A54.0 54.0 0 0 1 128.24 138.76L123.71 133.82A47.3 47.3 0 0 0 126.10 131.47Z" fill="#dfdbec"/>
<path d="M129.17 137.88A54.0 54.0 0 0 1 126.33 140.44L122.03 135.30A47.3 47.3 0 0 0 124.52 133.06Z" fill="#d6d1e7"/>
<path d="M127.30 139.61A54.0 54.0 0 0 1 124.33 142.03L120.28 136.69A47.3 47.3 0 0 0 122.88 134.57Z" fill="#cbc5e1"/>
<path d="M125.34 141.24A54.0 54.0 0 0 1 122.26 143.52L118.47 138.00A47.3 47.3 0 0 0 121.16 136.00Z" fill="#c2bbdb"/>
<path d="M123.30 142.79A54.0 54.0 0 0 1 120.12 144.92L116.59 139.22A47.3 47.3 0 0 0 119.38 137.35Z" fill="#c4bedd"/>
<path d="M121.20 144.23A54.0 54.0 0 0 1 117.92 146.21L114.66 140.35A47.3 47.3 0 0 0 117.54 138.62Z" fill="#c1badb"/>
<path d="M119.03 145.58A54.0 54.0 0 0 1 115.66 147.40L112.68 141.39A47.3 47.3 0 0 0 115.64 139.80Z" fill="#b2a9d2"/>
<path d="M116.79 146.82A54.0 54.0 0 0 1 113.34 148.47L110.66 142.33A47.3 47.3 0 0 0 113.68 140.88Z" fill="#aea5d0"/>
<path d="M114.51 147.95A54.0 54.0 0 0 1 110.98 149.44L108.59 143.18A47.3 47.3 0 0 0 111.68 141.87Z" fill="#ada3cf"/>
<path d="M112.17 148.97A54.0 54.0 0 0 1 108.57 150.30L106.48 143.93A47.3 47.3 0 0 0 109.63 142.77Z" fill="#a197c8"/>
<path d="M109.78 149.88A54.0 54.0 0 0 1 106.13 151.04L104.34 144.58A47.3 47.3 0 0 0 107.54 143.57Z" fill="#b1a9d2"/>
<path d="M107.36 150.68A54.0 54.0 0 0 1 103.66 151.66L102.17 145.13A47.3 47.3 0 0 0 105.41 144.27Z" fill="#c1badb"/>
<path d="M104.90 151.36A54.0 54.0 0 0 1 101.15 152.17L99.98 145.57A47.3 47.3 0 0 0 103.26 144.87Z" fill="#d3cfe5"/>
<path d="M102.41 151.93A54.0 54.0 0 0 1 98.63 152.55L97.77 145.91A47.3 47.3 0 0 0 101.08 145.36Z" fill="#e1dded"/>
<path d="M99.89 152.37A54.0 54.0 0 0 1 96.09 152.82L95.55 146.14A47.3 47.3 0 0 0 98.88 145.75Z" fill="#f4f2f8"/>
<path d="M97.36 152.70A54.0 54.0 0 0 1 93.54 152.97L93.31 146.27A47.3 47.3 0 0 0 96.66 146.04Z" fill="#f6f5fa"/>
<path d="M94.82 152.91A54.0 54.0 0 0 1 90.99 153.00L91.08 146.30A47.3 47.3 0 0 0 94.43 146.22Z" fill="#ffffff"/>
<path d="M92.27 153.00A54.0 54.0 0 0 1 88.44 152.90L88.84 146.21A47.3 47.3 0 0 0 92.20 146.30Z" fill="#dbd7ea"/>
<path d="M89.71 152.96A54.0 54.0 0 0 1 85.89 152.69L86.61 146.03A47.3 47.3 0 0 0 89.96 146.27Z" fill="#e2dfee"/>
<path d="M87.16 152.81A54.0 54.0 0 0 1 83.36 152.35L84.40 145.73A47.3 47.3 0 0 0 87.73 146.13Z" fill="#e6e3f0"/>
<path d="M84.63 152.53A54.0 54.0 0 0 1 80.85 151.90L82.20 145.34A47.3 47.3 0 0 0 85.50 145.89Z" fill="#eae8f3"/>
<path d="M82.10 152.14A54.0 54.0 0 0 1 78.36 151.33L80.02 144.83A47.3 47.3 0 0 0 83.29 145.55Z" fill="#fbfafd"/>
<path d="M79.60 151.63A54.0 54.0 0 0 1 75.90 150.64L77.86 144.23A47.3 47.3 0 0 0 81.10 145.10Z" fill="#f6f6fa"/>
<path d="M77.13 151.00A54.0 54.0 0 0 1 73.48 149.83L75.74 143.53A47.3 47.3 0 0 0 78.94 144.55Z" fill="#f9f8fb"/>
<path d="M74.69 150.25A54.0 54.0 0 0 1 71.10 148.92L73.65 142.72A47.3 47.3 0 0 0 76.80 143.89Z" fill="#fefbfb"/>
<path d="M72.28 149.39A54.0 54.0 0 0 1 68.76 147.89L71.61 141.82A47.3 47.3 0 0 0 74.69 143.14Z" fill="#fdfdfe"/>
<path d="M69.92 148.41A54.0 54.0 0 0 1 66.48 146.75L69.61 140.82A47.3 47.3 0 0 0 72.63 142.28Z" fill="#fdfdfe"/>
<path d="M67.61 147.33A54.0 54.0 0 0 1 64.25 145.50L67.65 139.73A47.3 47.3 0 0 0 70.60 141.33Z" fill="#fffefe"/>
<path d="M65.36 146.14A54.0 54.0 0 0 1 62.08 144.15L65.76 138.55A47.3 47.3 0 0 0 68.62 140.29Z" fill="#fef6f6"/>
<path d="M63.16 144.84A54.0 54.0 0 0 1 59.98 142.70L63.92 137.28A47.3 47.3 0 0 0 66.70 139.15Z" fill="#fdf4f3"/>
<path d="M61.02 143.44A54.0 54.0 0 0 1 57.95 141.15L62.14 135.92A47.3 47.3 0 0 0 64.83 137.93Z" fill="#fdf1f0"/>
<path d="M58.96 141.94A54.0 54.0 0 0 1 56.00 139.51L60.43 134.49A47.3 47.3 0 0 0 63.02 136.61Z" fill="#fdefee"/>
<path d="M56.96 140.34A54.0 54.0 0 0 1 54.12 137.78L58.78 132.97A47.3 47.3 0 0 0 61.27 135.21Z" fill="#fce6e5"/>
<path d="M55.05 138.66A54.0 54.0 0 0 1 52.33 135.96L57.21 131.37A47.3 47.3 0 0 0 59.60 133.74Z" fill="#fbe0df"/>
<path d="M53.21 136.88A54.0 54.0 0 0 1 50.63 134.06L55.72 129.71A47.3 47.3 0 0 0 57.99 132.18Z" fill="#fce7e6"/>
<path d="M51.47 135.02A54.0 54.0 0 0 1 49.02 132.08L54.31 127.97A47.3 47.3 0 0 0 56.46 130.55Z" fill="#fef5f4"/>
<path d="M49.81 133.08A54.0 54.0 0 0 1 47.50 130.02L52.98 126.17A47.3 47.3 0 0 0 55.01 128.85Z" fill="#fef6f6"/>
<path d="M48.25 131.06A54.0 54.0 0 0 1 46.08 127.90L51.74 124.31A47.3 47.3 0 0 0 53.64 127.08Z" fill="#fbe3e2"/>
<path d="M46.78 128.97A54.0 54.0 0 0 1 44.77 125.71L50.59 122.40A47.3 47.3 0 0 0 52.35 125.25Z" fill="#fbe3e2"/>
<path d="M45.41 126.81A54.0 54.0 0 0 1 43.56 123.46L49.53 120.43A47.3 47.3 0 0 0 51.16 123.36Z" fill="#fbe4e3"/>
<path d="M44.15 124.59A54.0 54.0 0 0 1 42.46 121.16L48.57 118.41A47.3 47.3 0 0 0 50.05 121.42Z" fill="#fce6e5"/>
<path d="M42.99 122.32A54.0 54.0 0 0 1 41.46 118.81L47.70 116.35A47.3 47.3 0 0 0 49.04 119.42Z" fill="#f9cfce"/>
<path d="M41.95 119.99A54.0 54.0 0 0 1 40.58 116.41L46.93 114.25A47.3 47.3 0 0 0 48.12 117.38Z" fill="#f8cfcd"/>
<path d="M41.01 117.61A54.0 54.0 0 0 1 39.82 113.97L46.26 112.12A47.3 47.3 0 0 0 47.30 115.30Z" fill="#fadcdb"/>
<path d="M40.19 115.20A54.0 54.0 0 0 1 39.17 111.51L45.69 109.95A47.3 47.3 0 0 0 46.58 113.19Z" fill="#fad9d8"/>
<path d="M39.48 112.74A54.0 54.0 0 0 1 38.64 109.01L45.22 107.77A47.3 47.3 0 0 0 45.96 111.04Z" fill="#fbe1e0"/>
<path d="M38.89 110.26A54.0 54.0 0 0 1 38.22 106.49L44.86 105.56A47.3 47.3 0 0 0 45.44 108.86Z" fill="#fadad9"/>
<path d="M38.41 107.75A54.0 54.0 0 0 1 37.93 103.95L44.60 103.34A47.3 47.3 0 0 0 45.03 106.67Z" fill="#fbdedd"/>
<path d="M38.06 105.22A54.0 54.0 0 0 1 37.75 101.41L44.45 101.11A47.3 47.3 0 0 0 44.72 104.45Z" fill="#fbe0e0"/>
<path d="M37.83 102.68A54.0 54.0 0 0 1 37.70 98.85L44.40 98.87A47.3 47.3 0 0 0 44.51 102.22Z" fill="#fadad9"/>
<path d="M37.71 100.13A54.0 54.0 0 0 1 37.77 96.30L44.46 96.64A47.3 47.3 0 0 0 44.41 99.99Z" fill="#fad7d6"/>
<path d="M37.72 97.58A54.0 54.0 0 0 1 37.96 93.76L44.62 94.41A47.3 47.3 0 0 0 44.42 97.75Z" fill="#fadddc"/>
<path d="M37.85 95.03A54.0 54.0 0 0 1 38.26 91.22L44.89 92.19A47.3 47.3 0 0 0 44.53 95.52Z" fill="#f6bebc"/>
<path d="M38.09 92.49A54.0 54.0 0 0 1 38.69 88.70L45.27 89.98A47.3 47.3 0 0 0 44.75 93.30Z" fill="#f7c3c2"/>
<path d="M38.46 89.96A54.0 54.0 0 0 1 39.24 86.21L45.75 87.80A47.3 47.3 0 0 0 45.07 91.08Z" fill="#f6bcba"/>
<path d="M38.95 87.45A54.0 54.0 0 0 1 39.90 83.75L46.33 85.64A47.3 47.3 0 0 0 45.49 88.89Z" fill="#f8c9c7"/>
<path d="M39.55 84.97A54.0 54.0 0 0 1 40.68 81.31L47.01 83.51A47.3 47.3 0 0 0 46.02 86.71Z" fill="#f8c8c6"/>
<path d="M40.27 82.53A54.0 54.0 0 0 1 41.57 78.92L47.79 81.41A47.3 47.3 0 0 0 46.66 84.57Z" fill="#f6bdbb"/>
<path d="M41.11 80.11A54.0 54.0 0 0 1 42.58 76.58L48.67 79.36A47.3 47.3 0 0 0 47.39 82.46Z" fill="#f6c0be"/>
<path d="M42.06 77.74A54.0 54.0 0 0 1 43.69 74.28L49.65 77.35A47.3 47.3 0 0 0 48.22 80.38Z" fill="#f7c6c4"/>
<path d="M43.12 75.42A54.0 54.0 0 0 1 44.91 72.04L50.72 75.38A47.3 47.3 0 0 0 49.15 78.35Z" fill="#f8c9c8"/>
<path d="M44.29 73.15A54.0 54.0 0 0 1 46.24 69.86L51.88 73.47A47.3 47.3 0 0 0 50.17 76.36Z" fill="#f7c7c6"/>
<path d="M45.56 70.94A54.0 54.0 0 0 1 47.67 67.74L53.13 71.62A47.3 47.3 0 0 0 51.29 74.42Z" fill="#f7c6c4"/>
<path d="M46.94 68.79A54.0 54.0 0 0 1 49.19 65.69L54.47 69.83A47.3 47.3 0 0 0 52.49 72.54Z" fill="#f7c3c1"/>
<path d="M48.42 66.71A54.0 54.0 0 0 1 50.82 63.72L55.89 68.10A47.3 47.3 0 0 0 53.79 70.71Z" fill="#f7c4c2"/>
<path d="M49.99 64.70A54.0 54.0 0 0 1 52.53 61.83L57.39 66.44A47.3 47.3 0 0 0 55.17 68.95Z" fill="#f5b9b7"/>
<path d="M51.66 62.77A54.0 54.0 0 0 1 54.33 60.02L58.97 64.86A47.3 47.3 0 0 0 56.63 67.26Z" fill="#f6bbb9"/>
<path d="M53.42 60.91A54.0 54.0 0 0 1 56.21 58.30L60.62 63.35A47.3 47.3 0 0 0 58.17 65.64Z" fill="#f7c1bf"/>
<path d="M55.26 59.15A54.0 54.0 0 0 1 58.18 56.66L62.34 61.92A47.3 47.3 0 0 0 59.78 64.09Z" fill="#f6bcba"/>
<path d="M57.19 57.47A54.0 54.0 0 0 1 60.22 55.13L64.12 60.57A47.3 47.3 0 0 0 61.47 62.62Z" fill="#f4afad"/>
<path d="M59.19 55.88A54.0 54.0 0 0 1 62.33 53.69L65.97 59.31A47.3 47.3 0 0 0 63.22 61.23Z" fill="#f5b3b1"/>
<path d="M61.26 54.40A54.0 54.0 0 0 1 64.50 52.35L67.87 58.14A47.3 47.3 0 0 0 65.04 59.93Z" fill="#f3a4a1"/>
<path d="M63.40 53.01A54.0 54.0 0 0 1 66.74 51.12L69.83 57.06A47.3 47.3 0 0 0 66.92 58.71Z" fill="#f3a7a4"/>
<path d="M65.61 51.72A54.0 54.0 0 0 1 69.03 49.99L71.84 56.07A47.3 47.3 0 0 0 68.85 57.59Z" fill="#f3a9a6"/>
<path d="M67.87 50.54A54.0 54.0 0 0 1 71.37 48.97L73.89 55.18A47.3 47.3 0 0 0 70.83 56.55Z" fill="#f19491"/>
<path d="M70.19 49.47A54.0 54.0 0 0 1 73.76 48.07L75.98 54.39A47.3 47.3 0 0 0 72.86 55.61Z" fill="#f4aaa8"/>
<path d="M72.56 48.51A54.0 54.0 0 0 1 76.18 47.28L78.11 53.69A47.3 47.3 0 0 0 74.93 54.77Z" fill="#f3a6a4"/>
<path d="M74.96 47.66A54.0 54.0 0 0 1 78.64 46.60L80.26 53.10A47.3 47.3 0 0 0 77.04 54.03Z" fill="#f4aba9"/>
<path d="M77.41 46.93A54.0 54.0 0 0 1 81.14 46.04L82.45 52.61A47.3 47.3 0 0 0 79.18 53.39Z" fill="#f5b6b4"/>
<path d="M79.89 46.31A54.0 54.0 0 0 1 83.65 45.60L84.65 52.23A47.3 47.3 0 0 0 81.35 52.85Z" fill="#f4afac"/>
<path d="M82.39 45.81A54.0 54.0 0 0 1 86.18 45.28L86.87 51.95A47.3 47.3 0 0 0 83.55 52.41Z" fill="#f3a7a4"/>
<path d="M84.92 45.43A54.0 54.0 0 0 1 88.73 45.08L89.10 51.77A47.3 47.3 0 0 0 85.76 52.07Z" fill="#f4aca9"/>
<path d="M87.45 45.17A54.0 54.0 0 0 1 91.28 45.00L91.33 51.70A47.3 47.3 0 0 0 87.98 51.85Z" fill="#f4aba8"/>
<path d="M90.00 45.03A54.0 54.0 0 0 1 93.83 45.04L93.57 51.74A47.3 47.3 0 0 0 90.21 51.72Z" fill="#f2a09d"/>
<path d="M92.56 45.01A54.0 54.0 0 0 1 96.38 45.20L95.80 51.88A47.3 47.3 0 0 0 92.45 51.71Z" fill="#f3a6a3"/>
<path d="M95.11 45.11A54.0 54.0 0 0 1 98.92 45.48L98.02 52.12A47.3 47.3 0 0 0 94.68 51.79Z" fill="#f19794"/>
<path d="M97.65 45.33A54.0 54.0 0 0 1 101.44 45.89L100.23 52.48A47.3 47.3 0 0 0 96.91 51.99Z" fill="#f29c99"/>
<path d="M100.18 45.67A54.0 54.0 0 0 1 103.94 46.41L102.42 52.93A47.3 47.3 0 0 0 99.13 52.29Z" fill="#f3a5a3"/>
<path d="M102.69 46.13A54.0 54.0 0 0 1 106.41 47.04L104.59 53.49A47.3 47.3 0 0 0 101.33 52.69Z" fill="#f19a97"/>
<path d="M105.18 46.71A54.0 54.0 0 0 1 108.85 47.80L106.72 54.15A47.3 47.3 0 0 0 103.51 53.20Z" fill="#f3a3a0"/>
<path d="M107.64 47.40A54.0 54.0 0 0 1 111.25 48.66L108.83 54.91A47.3 47.3 0 0 0 105.66 53.81Z" fill="#f0928f"/>
<path d="M110.06 48.22A54.0 54.0 0 0 1 113.61 49.64L110.89 55.77A47.3 47.3 0 0 0 107.78 54.52Z" fill="#f19491"/>
<path d="M112.44 49.14A54.0 54.0 0 0 1 115.92 50.73L112.91 56.72A47.3 47.3 0 0 0 109.86 55.33Z" fill="#f19794"/>
<path d="M114.77 50.18A54.0 54.0 0 0 1 117.05 51.32L113.91 57.24A47.3 47.3 0 0 0 111.91 56.23Z" fill="#f19693"/>
</g>
<g filter="url(#tx)" font-family='"Liberation Sans", sans-serif' font-size="1.75" fill="#181818" class="rl">
<text transform="translate(147.18 100.31) rotate(1.35)" dy="0.35em" textLength="21.00" lengthAdjust="spacingAndGlyphs">Cholesterol in Medium LDL</text>
<text transform="translate(147.06 102.93) rotate(4.06)" dy="0.35em" textLength="18.00" lengthAdjust="spacingAndGlyphs">Free Cholesterol in IDL</text>
<text transform="translate(146.81 105.55) rotate(6.77)" dy="0.35em" textLength="9.00" lengthAdjust="spacingAndGlyphs">Linoleic Acid</text>
<text transform="translate(146.44 108.14) rotate(9.48)" dy="0.35em" textLength="24.00" lengthAdjust="spacingAndGlyphs">Total Cholesterol Minus HDL-C</text>
<text transform="translate(145.95 110.72) rotate(12.19)" dy="0.35em" textLength="17.00" lengthAdjust="spacingAndGlyphs">Total Free Cholesterol</text>
<text transform="translate(145.33 113.27) rotate(14.90)" dy="0.35em" textLength="6.00" lengthAdjust="spacingAndGlyphs">Acetate</text>
<text transform="translate(144.60 115.79) rotate(17.61)" dy="0.35em" textLength="32.00" lengthAdjust="spacingAndGlyphs">Concentration of Medium VLDL Particles</text>
<text transform="translate(143.75 118.27) rotate(20.32)" dy="0.35em" textLength="25.47" lengthAdjust="spacingAndGlyphs">Free Cholesterol in Medium HDL</text>
<text transform="translate(142.78 120.71) rotate(23.03)" dy="0.35em" textLength="26.75" lengthAdjust="spacingAndGlyphs">Cholesterol Esters in Medium HDL</text>
<text transform="translate(141.69 123.10) rotate(25.74)" dy="0.35em" textLength="28.34" lengthAdjust="spacingAndGlyphs">Total Concentration of HDL Particles</text>
<text transform="translate(140.50 125.44) rotate(28.45)" dy="0.35em" textLength="23.90" lengthAdjust="spacingAndGlyphs">Free Cholesterol in Large HDL</text>
<text transform="translate(139.20 127.71) rotate(31.15)" dy="0.35em" textLength="34.00" lengthAdjust="spacingAndGlyphs">Concentration of Very Large VLDL Particles</text>
<text transform="translate(137.79 129.93) rotate(33.86)" dy="0.35em" textLength="24.26" lengthAdjust="spacingAndGlyphs">Phospholipids in Medium VLDL</text>
<text transform="translate(136.27 132.07) rotate(36.57)" dy="0.35em" textLength="29.39" lengthAdjust="spacingAndGlyphs">Cholesterol Esters in Very Large HDL</text>
<text transform="translate(134.66 134.14) rotate(39.28)" dy="0.35em" textLength="28.66" lengthAdjust="spacingAndGlyphs">Concentration of Large LDL Particles</text>
<text transform="translate(132.95 136.13) rotate(41.99)" dy="0.35em" textLength="24.19" lengthAdjust="spacingAndGlyphs">Total Lipids in Very Large VLDL</text>
<text transform="translate(131.15 138.04) rotate(44.70)" dy="0.35em" textLength="30.87" lengthAdjust="spacingAndGlyphs">Concentration of Medium HDL Particles</text>
<text transform="translate(129.26 139.86) rotate(47.41)" dy="0.35em" textLength="30.83" lengthAdjust="spacingAndGlyphs">Concentration of Large VLDL Particles</text>
<text transform="translate(127.29 141.59) rotate(50.12)" dy="0.35em" textLength="28.75" lengthAdjust="spacingAndGlyphs">Concentration of Small HDL Particles</text>
<text transform="translate(125.23 143.22) rotate(52.83)" dy="0.35em" textLength="28.57" lengthAdjust="spacingAndGlyphs">Concentration of Large HDL Particles</text>
<text transform="translate(123.11 144.76) rotate(55.54)" dy="0.35em" textLength="25.45" lengthAdjust="spacingAndGlyphs">Triglycerides in Very Large VLDL</text>
<text transform="translate(120.91 146.19) rotate(58.25)" dy="0.35em" textLength="24.55" lengthAdjust="spacingAndGlyphs">Free Cholesterol in Large VLDL</text>
<text transform="translate(118.65 147.52) rotate(60.95)" dy="0.35em" textLength="28.30" lengthAdjust="spacingAndGlyphs">Free Cholesterol in Very Large HDL</text>
<text transform="translate(116.32 148.74) rotate(63.66)" dy="0.35em" textLength="25.32" lengthAdjust="spacingAndGlyphs">Cholesterol Esters in Large HDL</text>
<text transform="translate(113.94 149.85) rotate(66.37)" dy="0.35em" textLength="26.54" lengthAdjust="spacingAndGlyphs">Phospholipids in Very Large VLDL</text>
<text transform="translate(111.52 150.84) rotate(69.08)" dy="0.35em" textLength="27.20" lengthAdjust="spacingAndGlyphs">Mean Diameter for VLDL Particles</text>
<text transform="translate(109.04 151.72) rotate(71.79)" dy="0.35em" textLength="26.02" lengthAdjust="spacingAndGlyphs">Phospholipids in Very Large HDL</text>
<text transform="translate(106.53 152.48) rotate(74.50)" dy="0.35em" textLength="29.36" lengthAdjust="spacingAndGlyphs">Concentration of Small VLDL Particles</text>
<text transform="translate(103.99 153.12) rotate(77.21)" dy="0.35em" textLength="29.50" lengthAdjust="spacingAndGlyphs">Concentration of Small VLDL Particles</text>
<text transform="translate(101.42 153.64) rotate(79.92)" dy="0.35em" textLength="33.60" lengthAdjust="spacingAndGlyphs">Ratio of Triglycerides to Phosphoglycerides</text>
<text transform="translate(98.82 154.04) rotate(82.63)" dy="0.35em" textLength="19.03" lengthAdjust="spacingAndGlyphs">Total Lipids in Large LDL</text>
<text transform="translate(96.21 154.32) rotate(85.34)" dy="0.35em" textLength="16.65" lengthAdjust="spacingAndGlyphs">Saturated Fatty Acids</text>
<text transform="translate(93.59 154.47) rotate(88.05)" dy="0.35em" textLength="13.01" lengthAdjust="spacingAndGlyphs">Total Cholesterol</text>
<text transform="translate(90.97 154.50) rotate(270.75)" dy="0.35em" text-anchor="end" textLength="14.69" lengthAdjust="spacingAndGlyphs">Phosphoglycerides</text>
<text transform="translate(88.35 154.40) rotate(273.46)" dy="0.35em" text-anchor="end" textLength="13.79" lengthAdjust="spacingAndGlyphs">Total Lipids in IDL</text>
<text transform="translate(85.73 154.18) rotate(276.17)" dy="0.35em" text-anchor="end" textLength="13.08" lengthAdjust="spacingAndGlyphs">Apolipoprotein B</text>
<text transform="translate(83.13 153.83) rotate(278.88)" dy="0.35em" text-anchor="end" textLength="20.47" lengthAdjust="spacingAndGlyphs">Total Lipids in Large VLDL</text>
<text transform="translate(80.55 153.37) rotate(281.59)" dy="0.35em" text-anchor="end" textLength="26.55" lengthAdjust="spacingAndGlyphs">Mean Diameter for HDL Particles</text>
<text transform="translate(77.99 152.78) rotate(284.30)" dy="0.35em" text-anchor="end" textLength="27.27" lengthAdjust="spacingAndGlyphs">Cholesterol Esters in Small HDL</text>
<text transform="translate(75.46 152.07) rotate(287.01)" dy="0.35em" text-anchor="end" textLength="27.38" lengthAdjust="spacingAndGlyphs">Free Cholesterol in Very Large HDL</text>
<text transform="translate(72.97 151.25) rotate(289.72)" dy="0.35em" text-anchor="end" textLength="25.68" lengthAdjust="spacingAndGlyphs">Cholesterol in Very Large HDL</text>
<text transform="translate(70.53 150.30) rotate(292.43)" dy="0.35em" text-anchor="end" textLength="26.12" lengthAdjust="spacingAndGlyphs">Free Cholesterol in Small HDL</text>
<text transform="translate(68.13 149.24) rotate(295.14)" dy="0.35em" text-anchor="end" textLength="27.51" lengthAdjust="spacingAndGlyphs">Free Cholesterol in Very Large HDL</text>
<text transform="translate(65.78 148.07) rotate(297.85)" dy="0.35em" text-anchor="end" textLength="25.61" lengthAdjust="spacingAndGlyphs">Total Lipids in Very Large HDL</text>
<text transform="translate(63.49 146.79) rotate(300.55)" dy="0.35em" text-anchor="end" textLength="30.12" lengthAdjust="spacingAndGlyphs">Concentration of Very Large HDL Particles</text>
<text transform="translate(61.26 145.41) rotate(303.26)" dy="0.35em" text-anchor="end" textLength="27.20" lengthAdjust="spacingAndGlyphs">Cholesterol Esters in Medium HDL</text>
<text transform="translate(59.10 143.92) rotate(305.97)" dy="0.35em" text-anchor="end" textLength="29.96" lengthAdjust="spacingAndGlyphs">Concentration of Large VLDL Particles</text>
<text transform="translate(57.01 142.32) rotate(308.68)" dy="0.35em" text-anchor="end" textLength="26.38" lengthAdjust="spacingAndGlyphs">Phospholipids in Medium HDL</text>
<text transform="translate(55.00 140.64) rotate(311.39)" dy="0.35em" text-anchor="end" textLength="29.51" lengthAdjust="spacingAndGlyphs">Concentration of Small VLDL Particles</text>
<text transform="translate(53.08 138.86) rotate(314.10)" dy="0.35em" text-anchor="end" textLength="27.38" lengthAdjust="spacingAndGlyphs">Free Cholesterol in Very Large HDL</text>
<text transform="translate(51.24 136.99) rotate(316.81)" dy="0.35em" text-anchor="end" textLength="20.10" lengthAdjust="spacingAndGlyphs">Triglycerides in Small LDL</text>
<text transform="translate(49.49 135.03) rotate(319.52)" dy="0.35em" text-anchor="end" textLength="20.21" lengthAdjust="spacingAndGlyphs">Total Lipids in Small VLDL</text>
<text transform="translate(47.83 133.00) rotate(322.23)" dy="0.35em" text-anchor="end" textLength="25.21" lengthAdjust="spacingAndGlyphs">Triglycerides in Medium VLDL</text>
<text transform="translate(46.27 130.88) rotate(324.94)" dy="0.35em" text-anchor="end" textLength="22.53" lengthAdjust="spacingAndGlyphs">Phospholipids in Large VLDL</text>
<text transform="translate(44.82 128.70) rotate(327.65)" dy="0.35em" text-anchor="end" textLength="26.51" lengthAdjust="spacingAndGlyphs">Mean Diameter for VLDL Particles</text>
<text transform="translate(43.46 126.45) rotate(330.35)" dy="0.35em" text-anchor="end" textLength="22.84" lengthAdjust="spacingAndGlyphs">Monounsaturated Fatty Acids</text>
<text transform="translate(42.22 124.14) rotate(333.06)" dy="0.35em" text-anchor="end" textLength="20.97" lengthAdjust="spacingAndGlyphs">Total Esterified Cholesterol</text>
<text transform="translate(41.09 121.77) rotate(335.77)" dy="0.35em" text-anchor="end" textLength="25.27" lengthAdjust="spacingAndGlyphs">Concentration of IDL Particles</text>
<text transform="translate(40.07 119.36) rotate(338.48)" dy="0.35em" text-anchor="end" textLength="26.72" lengthAdjust="spacingAndGlyphs">Cholesterol Esters in Medium HDL</text>
<text transform="translate(39.16 116.89) rotate(341.19)" dy="0.35em" text-anchor="end" textLength="24.34" lengthAdjust="spacingAndGlyphs">Phospholipids in Small VLDL</text>
<text transform="translate(38.38 114.39) rotate(343.90)" dy="0.35em" text-anchor="end" textLength="25.23" lengthAdjust="spacingAndGlyphs">Triglycerides in Medium HDL</text>
<text transform="translate(37.71 111.85) rotate(346.61)" dy="0.35em" text-anchor="end" textLength="27.83" lengthAdjust="spacingAndGlyphs">Free Cholesterol in Very Large HDL</text>
<text transform="translate(37.16 109.29) rotate(349.32)" dy="0.35em" text-anchor="end" textLength="32.25" lengthAdjust="spacingAndGlyphs">Total Phospholipids in Lipoprotein Particles</text>
<text transform="translate(36.74 106.70) rotate(352.03)" dy="0.35em" text-anchor="end" textLength="30.81" lengthAdjust="spacingAndGlyphs">Concentration of Medium HDL Particles</text>
<text transform="translate(36.43 104.09) rotate(354.74)" dy="0.35em" text-anchor="end" textLength="26.33" lengthAdjust="spacingAndGlyphs">Mean Diameter for VLDL Particles</text>
<text transform="translate(36.26 101.47) rotate(357.45)" dy="0.35em" text-anchor="end" textLength="27.22" lengthAdjust="spacingAndGlyphs">Cholesterol Esters in Medium HDL</text>
<text transform="translate(36.20 98.85) rotate(360.15)" dy="0.35em" text-anchor="end" textLength="26.21" lengthAdjust="spacingAndGlyphs">Mean Diameter for VLDL Particles</text>
<text transform="translate(36.27 96.23) rotate(362.86)" dy="0.35em" text-anchor="end" textLength="31.00" lengthAdjust="spacingAndGlyphs">Concentration of Medium HDL Particles</text>
<text transform="translate(36.46 93.61) rotate(365.57)" dy="0.35em" text-anchor="end" textLength="36.00" lengthAdjust="spacingAndGlyphs">Ratio of Apolipoprotein B to Apolipoprotein A1</text>
<text transform="translate(36.78 91.01) rotate(368.28)" dy="0.35em" text-anchor="end" textLength="29.60" lengthAdjust="spacingAndGlyphs">Concentration of Small VLDL Particles</text>
<text transform="translate(37.22 88.42) rotate(370.99)" dy="0.35em" text-anchor="end" textLength="16.00" lengthAdjust="spacingAndGlyphs">Phospholipids in IDL</text>
<text transform="translate(37.78 85.86) rotate(373.70)" dy="0.35em" text-anchor="end" textLength="26.00" lengthAdjust="spacingAndGlyphs">Phospholipids in Very Large HDL</text>
<text transform="translate(38.46 83.32) rotate(376.41)" dy="0.35em" text-anchor="end" textLength="8.00" lengthAdjust="spacingAndGlyphs">Creatinine</text>
<text transform="translate(39.26 80.82) rotate(379.12)" dy="0.35em" text-anchor="end" textLength="12.40" lengthAdjust="spacingAndGlyphs">Sphingomyelins</text>
<text transform="translate(40.18 78.36) rotate(381.83)" dy="0.35em" text-anchor="end" textLength="14.70" lengthAdjust="spacingAndGlyphs">Triglycerides in IDL</text>
<text transform="translate(41.21 75.95) rotate(384.54)" dy="0.35em" text-anchor="end" textLength="30.01" lengthAdjust="spacingAndGlyphs">Concentration of Large VLDL Particles</text>
<text transform="translate(42.36 73.59) rotate(387.25)" dy="0.35em" text-anchor="end" textLength="21.00" lengthAdjust="spacingAndGlyphs">Total Lipids in Medium HDL</text>
<text transform="translate(43.61 71.29) rotate(389.95)" dy="0.35em" text-anchor="end" textLength="26.40" lengthAdjust="spacingAndGlyphs">Mean Diameter for VLDL Particles</text>
<text transform="translate(44.98 69.05) rotate(392.66)" dy="0.35em" text-anchor="end" textLength="18.30" lengthAdjust="spacingAndGlyphs">Clinical LDL Cholesterol</text>
<text transform="translate(46.45 66.87) rotate(395.37)" dy="0.35em" text-anchor="end" textLength="22.00" lengthAdjust="spacingAndGlyphs">Triglycerides in Medium LDL</text>
<text transform="translate(48.01 64.77) rotate(398.08)" dy="0.35em" text-anchor="end" textLength="32.30" lengthAdjust="spacingAndGlyphs">Concentration of Very Large HDL Particles</text>
<text transform="translate(49.68 62.74) rotate(400.79)" dy="0.35em" text-anchor="end" textLength="31.12" lengthAdjust="spacingAndGlyphs">Concentration of Medium VLDL Particles</text>
<text transform="translate(51.44 60.80) rotate(403.50)" dy="0.35em" text-anchor="end" textLength="27.63" lengthAdjust="spacingAndGlyphs">Free Cholesterol in Very Large HDL</text>
<text transform="translate(53.29 58.94) rotate(406.21)" dy="0.35em" text-anchor="end" textLength="31.69" lengthAdjust="spacingAndGlyphs">Concentration of Medium VLDL Particles</text>
<text transform="translate(55.23 57.17) rotate(408.92)" dy="0.35em" text-anchor="end" textLength="26.97" lengthAdjust="spacingAndGlyphs">Cholesterol Esters in Medium HDL</text>
<text transform="translate(57.25 55.49) rotate(411.63)" dy="0.35em" text-anchor="end" textLength="28.42" lengthAdjust="spacingAndGlyphs">Concentration of Large LDL Particles</text>
<text transform="translate(59.34 53.91) rotate(414.34)" dy="0.35em" text-anchor="end" textLength="31.91" lengthAdjust="spacingAndGlyphs">Concentration of Medium VLDL Particles</text>
<text transform="translate(61.51 52.43) rotate(417.05)" dy="0.35em" text-anchor="end" textLength="30.70" lengthAdjust="spacingAndGlyphs">Concentration of Medium HDL Particles</text>
<text transform="translate(63.74 51.05) rotate(419.75)" dy="0.35em" text-anchor="end" textLength="27.18" lengthAdjust="spacingAndGlyphs">Cholesterol Esters in Medium HDL</text>
<text transform="translate(66.04 49.79) rotate(422.46)" dy="0.35em" text-anchor="end" textLength="33.67" lengthAdjust="spacingAndGlyphs">Ratio of Triglycerides to Phosphoglycerides</text>
<text transform="translate(68.40 48.63) rotate(425.17)" dy="0.35em" text-anchor="end" textLength="28.51" lengthAdjust="spacingAndGlyphs">Concentration of Large LDL Particles</text>
<text transform="translate(70.80 47.58) rotate(427.88)" dy="0.35em" text-anchor="end" textLength="29.10" lengthAdjust="spacingAndGlyphs">Cholesterol Esters in Very Large HDL</text>
<text transform="translate(73.26 46.65) rotate(430.59)" dy="0.35em" text-anchor="end" textLength="33.11" lengthAdjust="spacingAndGlyphs">Total Phospholipids in Lipoprotein Particles</text>
<text transform="translate(75.75 45.84) rotate(433.30)" dy="0.35em" text-anchor="end" textLength="30.90" lengthAdjust="spacingAndGlyphs">Concentration of Medium HDL Particles</text>
<text transform="translate(78.28 45.15) rotate(436.01)" dy="0.35em" text-anchor="end" textLength="37.00" lengthAdjust="spacingAndGlyphs">Phospholipids to Total Lipids Ratio in Large HDL</text>
<text transform="translate(80.84 44.57) rotate(438.72)" dy="0.35em" text-anchor="end" textLength="43.40" lengthAdjust="spacingAndGlyphs">Total Lipids in Chylomicrons and Extremely Large VLDL</text>
<text transform="translate(83.43 44.12) rotate(441.43)" dy="0.35em" text-anchor="end" textLength="31.94" lengthAdjust="spacingAndGlyphs">Concentration of Medium VLDL Particles</text>
<text transform="translate(86.03 43.79) rotate(444.14)" dy="0.35em" text-anchor="end" textLength="35.39" lengthAdjust="spacingAndGlyphs">Ratio of Apolipoprotein B to Apolipoprotein A1</text>
<text transform="translate(88.65 43.58) rotate(446.85)" dy="0.35em" text-anchor="end" textLength="32.78" lengthAdjust="spacingAndGlyphs">Concentration of Very Large HDL Particles</text>
<text transform="translate(91.27 43.50) rotate(449.55)" dy="0.35em" text-anchor="end" textLength="35.05" lengthAdjust="spacingAndGlyphs">Ratio of Apolipoprotein B to Apolipoprotein A1</text>
<text transform="translate(93.89 43.54) rotate(272.26)" dy="0.35em" textLength="33.21" lengthAdjust="spacingAndGlyphs">Total Phospholipids in Lipoprotein Particles</text>
<text transform="translate(96.51 43.71) rotate(274.97)" dy="0.35em" textLength="34.00" lengthAdjust="spacingAndGlyphs">Concentration of Very Large VLDL Particles</text>
<text transform="translate(99.12 44.00) rotate(277.68)" dy="0.35em" textLength="43.00" lengthAdjust="spacingAndGlyphs">Remnant Cholesterol (Non-HDL, Non-LDL Cholesterol)</text>
<text transform="translate(101.71 44.41) rotate(280.39)" dy="0.35em" textLength="33.29" lengthAdjust="spacingAndGlyphs">Total Phospholipids in Lipoprotein Particles</text>
<text transform="translate(104.28 44.94) rotate(283.10)" dy="0.35em" textLength="36.50" lengthAdjust="spacingAndGlyphs">Total Concentration of Branched-Chain Amino Acids</text>
<text transform="translate(106.82 45.60) rotate(285.81)" dy="0.35em" textLength="34.76" lengthAdjust="spacingAndGlyphs">Ratio of Apolipoprotein B to Apolipoprotein A1</text>
<text transform="translate(109.33 46.37) rotate(288.52)" dy="0.35em" textLength="27.26" lengthAdjust="spacingAndGlyphs">Cholesterol Esters in Medium HDL</text>
<text transform="translate(111.79 47.27) rotate(291.23)" dy="0.35em" textLength="24.35" lengthAdjust="spacingAndGlyphs">Cholesterol in Medium VLDL</text>
<text transform="translate(114.22 48.27) rotate(293.94)" dy="0.35em" textLength="28.54" lengthAdjust="spacingAndGlyphs">Concentration of Large LDL Particles</text>
<text transform="translate(116.59 49.39) rotate(296.65)" dy="0.35em" textLength="25.00" lengthAdjust="spacingAndGlyphs">Total Lipids in Medium VLDL</text>
</g>
<g filter="url(#tx)" font-family='"Liberation Sans", sans-serif' font-size="3.35" fill="#111" class="rw">
<text transform="translate(109.90 66.44) rotate(390.00)" dy="0.35em">Manic and depressive (Ref:Euthymic)</text>
<text transform="translate(113.14 60.64) rotate(390.00)" dy="0.35em">Depressive (Ref:Euthymic)</text>
<text transform="translate(116.41 54.79) rotate(390.00)" dy="0.35em">Manic (Ref:Euthymic)</text>
</g>
<defs><linearGradient id="lgA" x1="0" y1="0" x2="0" y2="1"><stop offset="0" stop-color="#e3302a"/><stop offset="0.5" stop-color="#fff"/><stop offset="1" stop-color="#260e80"/></linearGradient></defs><rect x="153.8" y="32.2" width="3.4" height="17.6" fill="url(#lgA)" filter="url(#bl)"/><g filter="url(#tx)" font-family='"Liberation Sans", sans-serif' font-size="2.9" fill="#111"><text x="158.50000000000003" y="30.6" font-weight="bold" font-size="2.8">B</text><text x="158.20000000000002" y="33.70">0.2</text><text x="158.20000000000002" y="37.85">0.1</text><text x="158.20000000000002" y="42.00">0</text><text x="158.20000000000002" y="46.15">-0.1</text><text x="158.20000000000002" y="50.30">-0.2</text></g>
<g filter="url(#bl)">
<path d="M304.10 99.60A39.5 39.5 0 0 1 304.00 102.40L298.81 102.03A34.3 34.3 0 0 0 298.90 99.60Z" fill="#f7f6fa"/>
<path d="M304.06 101.47A39.5 39.5 0 0 1 303.82 104.26L298.66 103.65A34.3 34.3 0 0 0 298.86 101.22Z" fill="#fbfbfd"/>
<path d="M303.92 103.33A39.5 39.5 0 0 1 303.56 106.11L298.43 105.25A34.3 34.3 0 0 0 298.75 102.84Z" fill="#f1f0f7"/>
<path d="M303.70 105.18A39.5 39.5 0 0 1 303.21 107.94L298.13 106.84A34.3 34.3 0 0 0 298.56 104.45Z" fill="#fefeff"/>
<path d="M303.40 107.03A39.5 39.5 0 0 1 302.77 109.76L297.75 108.42A34.3 34.3 0 0 0 298.29 106.05Z" fill="#f6f5fa"/>
<path d="M303.00 108.85A39.5 39.5 0 0 1 302.25 111.55L297.29 109.98A34.3 34.3 0 0 0 297.95 107.63Z" fill="#f3f2f8"/>
<path d="M302.52 110.66A39.5 39.5 0 0 1 301.64 113.32L296.77 111.51A34.3 34.3 0 0 0 297.53 109.20Z" fill="#e6e3f0"/>
<path d="M301.96 112.44A39.5 39.5 0 0 1 300.95 115.05L296.17 113.02A34.3 34.3 0 0 0 297.04 110.75Z" fill="#bcb5d8"/>
<path d="M301.31 114.19A39.5 39.5 0 0 1 300.18 116.75L295.50 114.49A34.3 34.3 0 0 0 296.48 112.27Z" fill="#b8b0d5"/>
<path d="M300.58 115.91A39.5 39.5 0 0 1 299.33 118.41L294.76 115.94A34.3 34.3 0 0 0 295.84 113.76Z" fill="#d2cde5"/>
<path d="M299.77 117.59A39.5 39.5 0 0 1 298.40 120.04L293.95 117.35A34.3 34.3 0 0 0 295.14 115.22Z" fill="#d7d3e8"/>
<path d="M298.88 119.23A39.5 39.5 0 0 1 297.40 121.61L293.08 118.71A34.3 34.3 0 0 0 294.36 116.65Z" fill="#e3e0ef"/>
<path d="M297.91 120.83A39.5 39.5 0 0 1 296.32 123.14L292.15 120.04A34.3 34.3 0 0 0 293.53 118.03Z" fill="#edeaf4"/>
<path d="M296.87 122.38A39.5 39.5 0 0 1 295.17 124.61L291.15 121.32A34.3 34.3 0 0 0 292.62 119.38Z" fill="#e7e4f1"/>
<path d="M295.76 123.88A39.5 39.5 0 0 1 293.96 126.03L290.09 122.55A34.3 34.3 0 0 0 291.66 120.68Z" fill="#eeecf5"/>
<path d="M294.57 125.32A39.5 39.5 0 0 1 292.68 127.38L288.98 123.73A34.3 34.3 0 0 0 290.63 121.94Z" fill="#ebe9f3"/>
<path d="M293.33 126.71A39.5 39.5 0 0 1 291.33 128.68L287.81 124.85A34.3 34.3 0 0 0 289.54 123.14Z" fill="#f0eef6"/>
<path d="M292.01 128.04A39.5 39.5 0 0 1 289.93 129.91L286.59 125.92A34.3 34.3 0 0 0 288.40 124.30Z" fill="#e9e7f2"/>
<path d="M290.64 129.30A39.5 39.5 0 0 1 288.47 131.07L285.32 126.93A34.3 34.3 0 0 0 287.21 125.39Z" fill="#e4e1ef"/>
<path d="M289.20 130.50A39.5 39.5 0 0 1 286.95 132.17L284.01 127.88A34.3 34.3 0 0 0 285.97 126.43Z" fill="#eae8f3"/>
<path d="M287.72 131.63A39.5 39.5 0 0 1 285.39 133.19L282.65 128.77A34.3 34.3 0 0 0 284.67 127.41Z" fill="#ebe9f3"/>
<path d="M286.18 132.69A39.5 39.5 0 0 1 283.78 134.13L281.25 129.59A34.3 34.3 0 0 0 283.34 128.33Z" fill="#e9e7f2"/>
<path d="M284.59 133.67A39.5 39.5 0 0 1 282.12 135.00L279.82 130.34A34.3 34.3 0 0 0 281.96 129.18Z" fill="#f8f7fb"/>
<path d="M282.96 134.58A39.5 39.5 0 0 1 280.43 135.79L278.35 131.02A34.3 34.3 0 0 0 280.54 129.97Z" fill="#fef5f5"/>
<path d="M281.28 135.40A39.5 39.5 0 0 1 278.70 136.50L276.85 131.64A34.3 34.3 0 0 0 279.09 130.69Z" fill="#fbe0df"/>
<path d="M279.57 136.15A39.5 39.5 0 0 1 276.94 137.12L275.32 132.18A34.3 34.3 0 0 0 277.60 131.34Z" fill="#fce8e7"/>
<path d="M277.83 136.82A39.5 39.5 0 0 1 275.16 137.66L273.77 132.65A34.3 34.3 0 0 0 276.09 131.92Z" fill="#fbe3e2"/>
<path d="M276.05 137.40A39.5 39.5 0 0 1 273.35 138.12L272.19 133.05A34.3 34.3 0 0 0 274.55 132.43Z" fill="#f9d3d2"/>
<path d="M274.25 137.90A39.5 39.5 0 0 1 271.51 138.49L270.60 133.37A34.3 34.3 0 0 0 272.98 132.86Z" fill="#f8ccca"/>
<path d="M272.43 138.32A39.5 39.5 0 0 1 269.67 138.77L269.00 133.62A34.3 34.3 0 0 0 271.40 133.22Z" fill="#f8cac8"/>
<path d="M270.59 138.64A39.5 39.5 0 0 1 267.81 138.97L267.39 133.79A34.3 34.3 0 0 0 269.80 133.50Z" fill="#f8c9c8"/>
<path d="M268.74 138.88A39.5 39.5 0 0 1 265.95 139.08L265.77 133.88A34.3 34.3 0 0 0 268.20 133.71Z" fill="#f8cac9"/>
<path d="M266.88 139.03A39.5 39.5 0 0 1 264.08 139.10L264.15 133.90A34.3 34.3 0 0 0 266.58 133.84Z" fill="#f9d6d5"/>
<path d="M265.01 139.10A39.5 39.5 0 0 1 262.21 139.03L262.53 133.84A34.3 34.3 0 0 0 264.96 133.90Z" fill="#fad7d5"/>
<path d="M263.15 139.07A39.5 39.5 0 0 1 260.35 138.87L260.91 133.70A34.3 34.3 0 0 0 263.34 133.88Z" fill="#f8cac9"/>
<path d="M261.28 138.96A39.5 39.5 0 0 1 258.50 138.63L259.30 133.49A34.3 34.3 0 0 0 261.72 133.78Z" fill="#f7c7c6"/>
<path d="M259.43 138.76A39.5 39.5 0 0 1 256.66 138.29L257.71 133.20A34.3 34.3 0 0 0 260.11 133.60Z" fill="#f8c9c8"/>
<path d="M257.58 138.47A39.5 39.5 0 0 1 254.84 137.88L256.13 132.84A34.3 34.3 0 0 0 258.50 133.35Z" fill="#f7c4c2"/>
<path d="M255.75 138.10A39.5 39.5 0 0 1 253.05 137.37L254.57 132.40A34.3 34.3 0 0 0 256.92 133.03Z" fill="#f7c7c6"/>
<path d="M253.94 137.63A39.5 39.5 0 0 1 251.27 136.78L253.03 131.89A34.3 34.3 0 0 0 255.34 132.63Z" fill="#f8cdcc"/>
<path d="M252.16 137.09A39.5 39.5 0 0 1 249.53 136.11L251.51 131.31A34.3 34.3 0 0 0 253.79 132.15Z" fill="#fcebeb"/>
<path d="M250.40 136.46A39.5 39.5 0 0 1 247.82 135.36L250.03 130.65A34.3 34.3 0 0 0 252.27 131.61Z" fill="#fef7f6"/>
<path d="M248.67 135.75A39.5 39.5 0 0 1 246.15 134.53L248.58 129.93A34.3 34.3 0 0 0 250.77 130.99Z" fill="#fffdfc"/>
<path d="M246.98 134.95A39.5 39.5 0 0 1 244.52 133.62L247.16 129.14A34.3 34.3 0 0 0 249.30 130.30Z" fill="#fdeded"/>
<path d="M245.33 134.08A39.5 39.5 0 0 1 242.93 132.63L245.79 128.28A34.3 34.3 0 0 0 247.87 129.54Z" fill="#fdf3f2"/>
<path d="M243.72 133.13A39.5 39.5 0 0 1 241.40 131.57L244.45 127.36A34.3 34.3 0 0 0 246.47 128.72Z" fill="#fdf0f0"/>
<path d="M242.16 132.11A39.5 39.5 0 0 1 239.91 130.43L243.16 126.38A34.3 34.3 0 0 0 245.11 127.83Z" fill="#fdf4f3"/>
<path d="M240.65 131.01A39.5 39.5 0 0 1 238.48 129.23L241.92 125.33A34.3 34.3 0 0 0 243.80 126.87Z" fill="#fdefee"/>
<path d="M239.19 129.84A39.5 39.5 0 0 1 237.11 127.97L240.73 124.23A34.3 34.3 0 0 0 242.54 125.86Z" fill="#fbe4e3"/>
<path d="M237.79 128.61A39.5 39.5 0 0 1 235.80 126.64L239.59 123.08A34.3 34.3 0 0 0 241.32 124.79Z" fill="#fdf1f0"/>
<path d="M236.45 127.31A39.5 39.5 0 0 1 234.56 125.24L238.51 121.87A34.3 34.3 0 0 0 240.15 123.66Z" fill="#f8f7fb"/>
<path d="M235.17 125.95A39.5 39.5 0 0 1 233.38 123.79L237.49 120.61A34.3 34.3 0 0 0 239.04 122.48Z" fill="#e4e1ef"/>
<path d="M233.96 124.53A39.5 39.5 0 0 1 232.27 122.29L236.52 119.30A34.3 34.3 0 0 0 237.99 121.24Z" fill="#a69ccb"/>
<path d="M232.81 123.05A39.5 39.5 0 0 1 231.23 120.74L235.62 117.96A34.3 34.3 0 0 0 237.00 119.96Z" fill="#a89ecc"/>
<path d="M231.74 121.52A39.5 39.5 0 0 1 230.27 119.14L234.79 116.57A34.3 34.3 0 0 0 236.07 118.64Z" fill="#a095c7"/>
<path d="M230.74 119.94A39.5 39.5 0 0 1 229.39 117.49L234.02 115.14A34.3 34.3 0 0 0 235.20 117.27Z" fill="#988dc3"/>
<path d="M229.82 118.32A39.5 39.5 0 0 1 228.58 115.81L233.32 113.68A34.3 34.3 0 0 0 234.40 115.86Z" fill="#a096c8"/>
<path d="M228.97 116.66A39.5 39.5 0 0 1 227.85 114.09L232.69 112.18A34.3 34.3 0 0 0 233.66 114.41Z" fill="#9184be"/>
<path d="M228.21 114.95A39.5 39.5 0 0 1 227.21 112.34L232.13 110.66A34.3 34.3 0 0 0 233.00 112.93Z" fill="#9d92c6"/>
<path d="M227.52 113.22A39.5 39.5 0 0 1 226.65 110.55L231.65 109.11A34.3 34.3 0 0 0 232.40 111.42Z" fill="#dedaec"/>
<path d="M226.92 111.45A39.5 39.5 0 0 1 226.17 108.75L231.23 107.54A34.3 34.3 0 0 0 231.88 109.89Z" fill="#dfdcec"/>
<path d="M226.40 109.65A39.5 39.5 0 0 1 225.78 106.92L230.89 105.96A34.3 34.3 0 0 0 231.43 108.33Z" fill="#dcd8eb"/>
<path d="M225.97 107.84A39.5 39.5 0 0 1 225.48 105.08L230.63 104.36A34.3 34.3 0 0 0 231.05 106.75Z" fill="#d7d2e7"/>
<path d="M225.62 106.00A39.5 39.5 0 0 1 225.27 103.22L230.44 102.75A34.3 34.3 0 0 0 230.75 105.16Z" fill="#fbdfde"/>
<path d="M225.36 104.15A39.5 39.5 0 0 1 225.14 101.36L230.33 101.13A34.3 34.3 0 0 0 230.53 103.55Z" fill="#f5b7b5"/>
<path d="M225.19 102.29A39.5 39.5 0 0 1 225.10 99.49L230.30 99.51A34.3 34.3 0 0 0 230.38 101.94Z" fill="#f5b8b6"/>
<path d="M225.11 100.43A39.5 39.5 0 0 1 225.15 97.63L230.34 97.89A34.3 34.3 0 0 0 230.31 100.32Z" fill="#f5b2b0"/>
<path d="M225.11 98.56A39.5 39.5 0 0 1 225.29 95.76L230.46 96.27A34.3 34.3 0 0 0 230.31 98.70Z" fill="#ef8985"/>
<path d="M225.21 96.69A39.5 39.5 0 0 1 225.51 93.91L230.66 94.66A34.3 34.3 0 0 0 230.39 97.08Z" fill="#f5b4b2"/>
<path d="M225.39 94.84A39.5 39.5 0 0 1 225.82 92.07L230.93 93.06A34.3 34.3 0 0 0 230.55 95.46Z" fill="#f5b9b7"/>
<path d="M225.66 92.99A39.5 39.5 0 0 1 226.22 90.24L231.28 91.48A34.3 34.3 0 0 0 230.78 93.86Z" fill="#f9d0cf"/>
<path d="M226.01 91.15A39.5 39.5 0 0 1 226.71 88.44L231.70 89.91A34.3 34.3 0 0 0 231.09 92.27Z" fill="#f8c8c7"/>
<path d="M226.46 89.34A39.5 39.5 0 0 1 227.28 86.66L232.19 88.37A34.3 34.3 0 0 0 231.48 90.69Z" fill="#fad7d6"/>
<path d="M226.98 87.55A39.5 39.5 0 0 1 227.93 84.91L232.76 86.85A34.3 34.3 0 0 0 231.94 89.14Z" fill="#fad8d6"/>
<path d="M227.59 85.78A39.5 39.5 0 0 1 228.67 83.20L233.40 85.36A34.3 34.3 0 0 0 232.47 87.60Z" fill="#fbdedd"/>
<path d="M228.29 84.05A39.5 39.5 0 0 1 229.48 81.52L234.11 83.90A34.3 34.3 0 0 0 233.07 86.10Z" fill="#fad9d8"/>
<path d="M229.06 82.35A39.5 39.5 0 0 1 230.38 79.88L234.88 82.47A34.3 34.3 0 0 0 233.74 84.62Z" fill="#f8cdcc"/>
<path d="M229.92 80.69A39.5 39.5 0 0 1 231.35 78.28L235.72 81.09A34.3 34.3 0 0 0 234.49 83.18Z" fill="#f6bfbd"/>
<path d="M230.85 79.07A39.5 39.5 0 0 1 232.39 76.73L236.63 79.74A34.3 34.3 0 0 0 235.29 81.78Z" fill="#f5b7b5"/>
<path d="M231.86 77.50A39.5 39.5 0 0 1 233.51 75.24L237.60 78.44A34.3 34.3 0 0 0 236.17 80.41Z" fill="#f2a09d"/>
<path d="M232.94 75.98A39.5 39.5 0 0 1 234.69 73.79L238.63 77.19A34.3 34.3 0 0 0 237.11 79.09Z" fill="#f08f8c"/>
<path d="M234.09 74.51A39.5 39.5 0 0 1 235.95 72.41L239.72 75.99A34.3 34.3 0 0 0 238.11 77.81Z" fill="#f4adaa"/>
<path d="M235.31 73.09A39.5 39.5 0 0 1 237.26 71.09L240.86 74.84A34.3 34.3 0 0 0 239.17 76.58Z" fill="#f7c6c4"/>
<path d="M236.60 71.74A39.5 39.5 0 0 1 238.64 69.83L242.06 73.75A34.3 34.3 0 0 0 240.28 75.41Z" fill="#f8cac9"/>
<path d="M237.95 70.45A39.5 39.5 0 0 1 240.08 68.63L243.31 72.71A34.3 34.3 0 0 0 241.46 74.29Z" fill="#f5b2b0"/>
<path d="M239.35 69.22A39.5 39.5 0 0 1 241.57 67.51L244.60 71.73A34.3 34.3 0 0 0 242.68 73.22Z" fill="#f5b4b1"/>
<path d="M240.82 68.06A39.5 39.5 0 0 1 243.11 66.46L245.94 70.82A34.3 34.3 0 0 0 243.95 72.21Z" fill="#f2a09d"/>
<path d="M242.34 66.97A39.5 39.5 0 0 1 244.70 65.48L247.32 69.97A34.3 34.3 0 0 0 245.27 71.27Z" fill="#f2a19e"/>
<path d="M243.90 65.96A39.5 39.5 0 0 1 246.34 64.57L248.74 69.19A34.3 34.3 0 0 0 246.63 70.39Z" fill="#f3a5a3"/>
<path d="M245.52 65.02A39.5 39.5 0 0 1 248.01 63.75L250.20 68.47A34.3 34.3 0 0 0 248.03 69.57Z" fill="#f3a6a3"/>
<path d="M247.17 64.15A39.5 39.5 0 0 1 249.73 63.01L251.69 67.82A34.3 34.3 0 0 0 249.47 68.82Z" fill="#f7c1bf"/>
<path d="M248.87 63.37A39.5 39.5 0 0 1 251.47 62.34L253.20 67.25A34.3 34.3 0 0 0 250.94 68.14Z" fill="#f8c9c8"/>
<path d="M250.60 62.67A39.5 39.5 0 0 1 253.25 61.77L254.74 66.75A34.3 34.3 0 0 0 252.44 67.53Z" fill="#f7c6c5"/>
<path d="M252.36 62.04A39.5 39.5 0 0 1 255.05 61.27L256.31 66.32A34.3 34.3 0 0 0 253.97 66.99Z" fill="#f9d0cf"/>
<path d="M254.15 61.51A39.5 39.5 0 0 1 256.87 60.86L257.89 65.96A34.3 34.3 0 0 0 255.52 66.52Z" fill="#f9d2d1"/>
<path d="M255.96 61.06A39.5 39.5 0 0 1 258.71 60.54L259.49 65.68A34.3 34.3 0 0 0 257.10 66.13Z" fill="#f7c1bf"/>
<path d="M257.79 60.69A39.5 39.5 0 0 1 260.56 60.31L261.10 65.48A34.3 34.3 0 0 0 258.69 65.81Z" fill="#f7c6c4"/>
<path d="M259.64 60.41A39.5 39.5 0 0 1 262.43 60.16L262.71 65.35A34.3 34.3 0 0 0 260.29 65.57Z" fill="#f7c4c3"/>
<path d="M261.49 60.22A39.5 39.5 0 0 1 264.29 60.10L264.33 65.30A34.3 34.3 0 0 0 261.90 65.41Z" fill="#f7c1bf"/>
<path d="M263.36 60.12A39.5 39.5 0 0 1 266.16 60.13L265.95 65.33A34.3 34.3 0 0 0 263.52 65.32Z" fill="#f7c4c2"/>
<path d="M265.23 60.10A39.5 39.5 0 0 1 268.02 60.25L267.57 65.43A34.3 34.3 0 0 0 265.14 65.30Z" fill="#f6bfbe"/>
<path d="M267.09 60.18A39.5 39.5 0 0 1 269.88 60.45L269.18 65.61A34.3 34.3 0 0 0 266.76 65.37Z" fill="#f6bcba"/>
<path d="M268.95 60.34A39.5 39.5 0 0 1 271.72 60.75L270.79 65.86A34.3 34.3 0 0 0 268.38 65.51Z" fill="#f5b6b4"/>
<path d="M270.80 60.59A39.5 39.5 0 0 1 273.55 61.13L272.37 66.19A34.3 34.3 0 0 0 269.99 65.73Z" fill="#f5b6b4"/>
<path d="M272.64 60.93A39.5 39.5 0 0 1 275.36 61.59L273.94 66.60A34.3 34.3 0 0 0 271.58 66.02Z" fill="#f3a7a5"/>
<path d="M274.46 61.35A39.5 39.5 0 0 1 277.15 62.15L275.49 67.08A34.3 34.3 0 0 0 273.16 66.39Z" fill="#f4aba8"/>
<path d="M276.26 61.86A39.5 39.5 0 0 1 278.90 62.78L277.02 67.63A34.3 34.3 0 0 0 274.72 66.83Z" fill="#f3a8a6"/>
<path d="M278.03 62.45A39.5 39.5 0 0 1 280.63 63.50L278.52 68.25A34.3 34.3 0 0 0 276.26 67.34Z" fill="#f3aaa7"/>
<path d="M279.77 63.13A39.5 39.5 0 0 1 282.31 64.29L279.98 68.94A34.3 34.3 0 0 0 277.77 67.93Z" fill="#f9d0cf"/>
<path d="M281.47 63.89A39.5 39.5 0 0 1 283.14 64.72L280.70 69.31A34.3 34.3 0 0 0 279.25 68.59Z" fill="#f9d0ce"/>
<path d="M313.60 99.60A49.0 49.0 0 0 1 313.48 103.07L308.69 102.73A44.2 44.2 0 0 0 308.80 99.60Z" fill="#c3bddc"/>
<path d="M313.55 101.92A49.0 49.0 0 0 1 313.26 105.38L308.49 104.81A44.2 44.2 0 0 0 308.75 101.69Z" fill="#bfb8d9"/>
<path d="M313.38 104.23A49.0 49.0 0 0 1 312.93 107.67L308.20 106.88A44.2 44.2 0 0 0 308.60 103.77Z" fill="#bfb8da"/>
<path d="M313.11 106.53A49.0 49.0 0 0 1 312.50 109.95L307.80 108.93A44.2 44.2 0 0 0 308.36 105.85Z" fill="#c0b9da"/>
<path d="M312.73 108.81A49.0 49.0 0 0 1 311.95 112.20L307.31 110.97A44.2 44.2 0 0 0 308.01 107.91Z" fill="#bab2d7"/>
<path d="M312.24 111.08A49.0 49.0 0 0 1 311.30 114.42L306.73 112.97A44.2 44.2 0 0 0 307.57 109.95Z" fill="#bcb5d8"/>
<path d="M311.64 113.32A49.0 49.0 0 0 1 310.55 116.61L306.05 114.95A44.2 44.2 0 0 0 307.03 111.97Z" fill="#b5add4"/>
<path d="M310.94 115.52A49.0 49.0 0 0 1 309.70 118.77L305.28 116.89A44.2 44.2 0 0 0 306.40 113.96Z" fill="#afa6d0"/>
<path d="M310.14 117.70A49.0 49.0 0 0 1 308.74 120.88L304.42 118.79A44.2 44.2 0 0 0 305.68 115.92Z" fill="#bfb8d9"/>
<path d="M309.23 119.83A49.0 49.0 0 0 1 307.68 122.94L303.46 120.65A44.2 44.2 0 0 0 304.86 117.85Z" fill="#b6aed4"/>
<path d="M308.22 121.91A49.0 49.0 0 0 1 306.53 124.95L302.43 122.47A44.2 44.2 0 0 0 303.95 119.73Z" fill="#b7afd5"/>
<path d="M307.12 123.95A49.0 49.0 0 0 1 305.29 126.90L301.30 124.23A44.2 44.2 0 0 0 302.96 121.57Z" fill="#b3abd3"/>
<path d="M305.92 125.93A49.0 49.0 0 0 1 303.95 128.80L300.10 125.94A44.2 44.2 0 0 0 301.87 123.35Z" fill="#aea5d0"/>
<path d="M304.63 127.86A49.0 49.0 0 0 1 302.53 130.62L298.81 127.58A44.2 44.2 0 0 0 300.71 125.09Z" fill="#cdc7e2"/>
<path d="M303.25 129.72A49.0 49.0 0 0 1 301.02 132.38L297.45 129.17A44.2 44.2 0 0 0 299.46 126.77Z" fill="#bdb6d8"/>
<path d="M301.78 131.51A49.0 49.0 0 0 1 299.43 134.07L296.02 130.69A44.2 44.2 0 0 0 298.14 128.39Z" fill="#bab2d6"/>
<path d="M300.23 133.23A49.0 49.0 0 0 1 297.76 135.67L294.51 132.14A44.2 44.2 0 0 0 296.74 129.94Z" fill="#bab2d7"/>
<path d="M298.60 134.88A49.0 49.0 0 0 1 296.02 137.20L292.94 133.52A44.2 44.2 0 0 0 295.27 131.42Z" fill="#bbb4d7"/>
<path d="M296.90 136.45A49.0 49.0 0 0 1 294.21 138.64L291.31 134.82A44.2 44.2 0 0 0 293.74 132.84Z" fill="#c3bcdc"/>
<path d="M295.12 137.93A49.0 49.0 0 0 1 292.33 140.00L289.61 136.04A44.2 44.2 0 0 0 292.13 134.18Z" fill="#b2a9d2"/>
<path d="M293.28 139.33A49.0 49.0 0 0 1 290.39 141.27L287.86 137.18A44.2 44.2 0 0 0 290.47 135.44Z" fill="#aca3ce"/>
<path d="M291.37 140.64A49.0 49.0 0 0 1 288.39 142.44L286.06 138.24A44.2 44.2 0 0 0 288.74 136.62Z" fill="#b1a8d1"/>
<path d="M289.40 141.86A49.0 49.0 0 0 1 286.34 143.51L284.21 139.21A44.2 44.2 0 0 0 286.97 137.72Z" fill="#b9b1d6"/>
<path d="M287.37 142.99A49.0 49.0 0 0 1 284.24 144.49L282.31 140.09A44.2 44.2 0 0 0 285.14 138.74Z" fill="#c5bfdd"/>
<path d="M285.29 144.02A49.0 49.0 0 0 1 282.09 145.37L280.38 140.89A44.2 44.2 0 0 0 283.27 139.66Z" fill="#c7c1de"/>
<path d="M283.17 144.94A49.0 49.0 0 0 1 279.91 146.15L278.41 141.59A44.2 44.2 0 0 0 281.35 140.50Z" fill="#cdc7e2"/>
<path d="M281.01 145.77A49.0 49.0 0 0 1 277.69 146.82L276.41 142.19A44.2 44.2 0 0 0 279.40 141.25Z" fill="#dcd9eb"/>
<path d="M278.81 146.50A49.0 49.0 0 0 1 275.45 147.38L274.39 142.70A44.2 44.2 0 0 0 277.42 141.90Z" fill="#e8e6f2"/>
<path d="M276.57 147.11A49.0 49.0 0 0 1 273.18 147.84L272.34 143.12A44.2 44.2 0 0 0 275.40 142.46Z" fill="#eeecf5"/>
<path d="M274.32 147.63A49.0 49.0 0 0 1 270.89 148.19L270.27 143.43A44.2 44.2 0 0 0 273.36 142.92Z" fill="#f5f4f9"/>
<path d="M272.03 148.03A49.0 49.0 0 0 1 268.58 148.44L268.19 143.65A44.2 44.2 0 0 0 271.31 143.29Z" fill="#fafafc"/>
<path d="M269.74 148.33A49.0 49.0 0 0 1 266.27 148.57L266.11 143.77A44.2 44.2 0 0 0 269.23 143.56Z" fill="#fef9f9"/>
<path d="M267.43 148.52A49.0 49.0 0 0 1 263.95 148.60L264.02 143.80A44.2 44.2 0 0 0 267.15 143.73Z" fill="#fadedd"/>
<path d="M265.11 148.60A49.0 49.0 0 0 1 261.64 148.51L261.93 143.72A44.2 44.2 0 0 0 265.06 143.80Z" fill="#fad8d7"/>
<path d="M262.80 148.57A49.0 49.0 0 0 1 259.33 148.32L259.85 143.54A44.2 44.2 0 0 0 262.97 143.77Z" fill="#fef6f6"/>
<path d="M260.48 148.43A49.0 49.0 0 0 1 257.03 148.01L257.78 143.27A44.2 44.2 0 0 0 260.89 143.64Z" fill="#fffefe"/>
<path d="M258.18 148.18A49.0 49.0 0 0 1 254.75 147.60L255.72 142.90A44.2 44.2 0 0 0 258.81 143.42Z" fill="#fafafc"/>
<path d="M255.89 147.82A49.0 49.0 0 0 1 252.50 147.08L253.68 142.43A44.2 44.2 0 0 0 256.75 143.10Z" fill="#f3f1f8"/>
<path d="M253.62 147.35A49.0 49.0 0 0 1 250.27 146.46L251.67 141.87A44.2 44.2 0 0 0 254.70 142.68Z" fill="#fef9f9"/>
<path d="M251.38 146.78A49.0 49.0 0 0 1 248.07 145.73L249.69 141.21A44.2 44.2 0 0 0 252.67 142.16Z" fill="#fbfafc"/>
<path d="M249.16 146.10A49.0 49.0 0 0 1 245.91 144.89L247.74 140.46A44.2 44.2 0 0 0 250.67 141.55Z" fill="#fcfbfd"/>
<path d="M246.98 145.32A49.0 49.0 0 0 1 243.79 143.96L245.82 139.61A44.2 44.2 0 0 0 248.71 140.84Z" fill="#f5f3f9"/>
<path d="M244.84 144.44A49.0 49.0 0 0 1 241.71 142.93L243.95 138.68A44.2 44.2 0 0 0 246.78 140.05Z" fill="#e4e1ef"/>
<path d="M242.74 143.46A49.0 49.0 0 0 1 239.69 141.80L242.13 137.66A44.2 44.2 0 0 0 244.88 139.16Z" fill="#ddd9eb"/>
<path d="M240.69 142.37A49.0 49.0 0 0 1 237.72 140.57L240.36 136.56A44.2 44.2 0 0 0 243.04 138.18Z" fill="#fefdfe"/>
<path d="M238.70 141.20A49.0 49.0 0 0 1 235.82 139.26L238.64 135.37A44.2 44.2 0 0 0 241.24 137.12Z" fill="#f7f6fa"/>
<path d="M236.76 139.92A49.0 49.0 0 0 1 233.98 137.85L236.98 134.10A44.2 44.2 0 0 0 239.49 135.97Z" fill="#fafafc"/>
<path d="M234.89 138.56A49.0 49.0 0 0 1 232.20 136.36L235.38 132.76A44.2 44.2 0 0 0 237.80 134.75Z" fill="#f8f7fb"/>
<path d="M233.08 137.12A49.0 49.0 0 0 1 230.50 134.79L233.84 131.34A44.2 44.2 0 0 0 236.17 133.44Z" fill="#ddd9eb"/>
<path d="M231.34 135.58A49.0 49.0 0 0 1 228.88 133.14L232.37 129.85A44.2 44.2 0 0 0 234.60 132.06Z" fill="#dddaeb"/>
<path d="M229.68 133.97A49.0 49.0 0 0 1 227.33 131.41L230.98 128.29A44.2 44.2 0 0 0 233.10 130.61Z" fill="#dbd7ea"/>
<path d="M228.09 132.28A49.0 49.0 0 0 1 225.87 129.61L229.66 126.67A44.2 44.2 0 0 0 231.67 129.08Z" fill="#e1deee"/>
<path d="M226.59 130.52A49.0 49.0 0 0 1 224.49 127.75L228.42 124.99A44.2 44.2 0 0 0 230.31 127.49Z" fill="#c4bddc"/>
<path d="M225.17 128.69A49.0 49.0 0 0 1 223.21 125.82L227.26 123.25A44.2 44.2 0 0 0 229.03 125.84Z" fill="#8e82bd"/>
<path d="M223.84 126.79A49.0 49.0 0 0 1 222.01 123.84L226.19 121.46A44.2 44.2 0 0 0 227.83 124.13Z" fill="#8274b6"/>
<path d="M222.60 124.84A49.0 49.0 0 0 1 220.92 121.80L225.20 119.62A44.2 44.2 0 0 0 226.71 122.36Z" fill="#9286bf"/>
<path d="M221.45 122.82A49.0 49.0 0 0 1 219.92 119.71L224.29 117.74A44.2 44.2 0 0 0 225.68 120.55Z" fill="#b5add4"/>
<path d="M220.40 120.76A49.0 49.0 0 0 1 219.02 117.57L223.48 115.81A44.2 44.2 0 0 0 224.73 118.69Z" fill="#796ab1"/>
<path d="M219.45 118.65A49.0 49.0 0 0 1 218.22 115.40L222.76 113.85A44.2 44.2 0 0 0 223.88 116.78Z" fill="#c8c2df"/>
<path d="M218.60 116.49A49.0 49.0 0 0 1 217.52 113.19L222.13 111.86A44.2 44.2 0 0 0 223.11 114.84Z" fill="#e4e1ef"/>
<path d="M217.86 114.30A49.0 49.0 0 0 1 216.93 110.95L221.60 109.84A44.2 44.2 0 0 0 222.44 112.86Z" fill="#f2f1f7"/>
<path d="M217.21 112.07A49.0 49.0 0 0 1 216.45 108.68L221.17 107.79A44.2 44.2 0 0 0 221.86 110.85Z" fill="#fefeff"/>
<path d="M216.68 109.82A49.0 49.0 0 0 1 216.07 106.40L220.83 105.73A44.2 44.2 0 0 0 221.37 108.82Z" fill="#f8cccb"/>
<path d="M216.25 107.54A49.0 49.0 0 0 1 215.81 104.10L220.59 103.65A44.2 44.2 0 0 0 220.98 106.76Z" fill="#ef8581"/>
<path d="M215.93 105.25A49.0 49.0 0 0 1 215.65 101.78L220.44 101.57A44.2 44.2 0 0 0 220.69 104.69Z" fill="#ec6f6b"/>
<path d="M215.71 102.94A49.0 49.0 0 0 1 215.60 99.47L220.40 99.48A44.2 44.2 0 0 0 220.50 102.61Z" fill="#ec6f6b"/>
<path d="M215.61 100.63A49.0 49.0 0 0 1 215.66 97.15L220.46 97.39A44.2 44.2 0 0 0 220.41 100.53Z" fill="#ed7b77"/>
<path d="M215.62 98.31A49.0 49.0 0 0 1 215.83 94.84L220.61 95.31A44.2 44.2 0 0 0 220.42 98.44Z" fill="#ef8a87"/>
<path d="M215.73 96.00A49.0 49.0 0 0 1 216.11 92.54L220.86 93.23A44.2 44.2 0 0 0 220.52 96.35Z" fill="#fadcdb"/>
<path d="M215.96 93.69A49.0 49.0 0 0 1 216.50 90.26L221.21 91.17A44.2 44.2 0 0 0 220.72 94.27Z" fill="#f9d4d3"/>
<path d="M216.29 91.40A49.0 49.0 0 0 1 216.99 87.99L221.66 89.13A44.2 44.2 0 0 0 221.02 92.20Z" fill="#fadbda"/>
<path d="M216.73 89.12A49.0 49.0 0 0 1 217.60 85.76L222.20 87.11A44.2 44.2 0 0 0 221.42 90.15Z" fill="#fadcdb"/>
<path d="M217.28 86.87A49.0 49.0 0 0 1 218.30 83.55L222.84 85.12A44.2 44.2 0 0 0 221.92 88.12Z" fill="#fadbda"/>
<path d="M217.94 84.65A49.0 49.0 0 0 1 219.11 81.38L223.57 83.17A44.2 44.2 0 0 0 222.51 86.11Z" fill="#f9d1d0"/>
<path d="M218.69 82.46A49.0 49.0 0 0 1 220.02 79.25L224.39 81.25A44.2 44.2 0 0 0 223.19 84.14Z" fill="#fce7e7"/>
<path d="M219.56 80.31A49.0 49.0 0 0 1 221.04 77.17L225.30 79.37A44.2 44.2 0 0 0 223.97 82.20Z" fill="#f9cfce"/>
<path d="M220.52 78.20A49.0 49.0 0 0 1 222.15 75.13L226.30 77.53A44.2 44.2 0 0 0 224.84 80.30Z" fill="#f8cecc"/>
<path d="M221.58 76.14A49.0 49.0 0 0 1 223.35 73.15L227.39 75.74A44.2 44.2 0 0 0 225.79 78.44Z" fill="#f8cecc"/>
<path d="M222.74 74.14A49.0 49.0 0 0 1 224.65 71.23L228.56 74.01A44.2 44.2 0 0 0 226.84 76.63Z" fill="#f8cdcb"/>
<path d="M223.99 72.19A49.0 49.0 0 0 1 226.03 69.38L229.81 72.34A44.2 44.2 0 0 0 227.96 74.87Z" fill="#f8cfcd"/>
<path d="M225.33 70.30A49.0 49.0 0 0 1 227.50 67.59L231.14 70.72A44.2 44.2 0 0 0 229.17 73.17Z" fill="#f6b9b7"/>
<path d="M226.76 68.47A49.0 49.0 0 0 1 229.06 65.87L232.54 69.17A44.2 44.2 0 0 0 230.46 71.52Z" fill="#f19996"/>
<path d="M228.27 66.72A49.0 49.0 0 0 1 230.69 64.23L234.01 67.69A44.2 44.2 0 0 0 231.83 69.94Z" fill="#f4aaa8"/>
<path d="M229.86 65.04A49.0 49.0 0 0 1 232.40 62.67L235.55 66.28A44.2 44.2 0 0 0 233.27 68.43Z" fill="#f5b7b5"/>
<path d="M231.54 63.44A49.0 49.0 0 0 1 234.18 61.18L237.16 64.95A44.2 44.2 0 0 0 234.78 66.98Z" fill="#f7c6c4"/>
<path d="M233.28 61.91A49.0 49.0 0 0 1 236.03 59.79L238.83 63.69A44.2 44.2 0 0 0 236.35 65.61Z" fill="#f8cac9"/>
<path d="M235.10 60.48A49.0 49.0 0 0 1 237.95 58.48L240.56 62.51A44.2 44.2 0 0 0 237.99 64.31Z" fill="#f7c1bf"/>
<path d="M236.98 59.13A49.0 49.0 0 0 1 239.92 57.27L242.34 61.42A44.2 44.2 0 0 0 239.69 63.09Z" fill="#f7c5c3"/>
<path d="M238.92 57.87A49.0 49.0 0 0 1 241.95 56.15L244.17 60.41A44.2 44.2 0 0 0 241.44 61.95Z" fill="#f7c3c1"/>
<path d="M240.93 56.70A49.0 49.0 0 0 1 244.03 55.13L246.04 59.49A44.2 44.2 0 0 0 243.25 60.90Z" fill="#f6bfbd"/>
<path d="M242.98 55.63A49.0 49.0 0 0 1 246.15 54.21L247.96 58.65A44.2 44.2 0 0 0 245.10 59.93Z" fill="#f6c0be"/>
<path d="M245.08 54.65A49.0 49.0 0 0 1 248.32 53.38L249.91 57.91A44.2 44.2 0 0 0 246.99 59.06Z" fill="#f7c7c6"/>
<path d="M247.23 53.78A49.0 49.0 0 0 1 250.52 52.67L251.90 57.26A44.2 44.2 0 0 0 248.93 58.27Z" fill="#f7c7c5"/>
<path d="M249.41 53.01A49.0 49.0 0 0 1 252.75 52.05L253.91 56.71A44.2 44.2 0 0 0 250.90 57.58Z" fill="#f6c0be"/>
<path d="M251.63 52.35A49.0 49.0 0 0 1 255.01 51.55L255.95 56.25A44.2 44.2 0 0 0 252.90 56.98Z" fill="#f6b9b7"/>
<path d="M253.88 51.79A49.0 49.0 0 0 1 257.30 51.15L258.01 55.89A44.2 44.2 0 0 0 254.93 56.47Z" fill="#f8c8c7"/>
<path d="M256.15 51.33A49.0 49.0 0 0 1 259.59 50.86L260.08 55.63A44.2 44.2 0 0 0 256.98 56.06Z" fill="#f8cac8"/>
<path d="M258.44 50.99A49.0 49.0 0 0 1 261.90 50.67L262.17 55.47A44.2 44.2 0 0 0 259.05 55.75Z" fill="#f8cbc9"/>
<path d="M260.75 50.75A49.0 49.0 0 0 1 264.22 50.60L264.26 55.40A44.2 44.2 0 0 0 261.13 55.54Z" fill="#f7c1bf"/>
<path d="M263.06 50.62A49.0 49.0 0 0 1 266.54 50.64L266.35 55.43A44.2 44.2 0 0 0 263.21 55.42Z" fill="#f7c3c2"/>
<path d="M265.38 50.61A49.0 49.0 0 0 1 268.85 50.78L268.43 55.57A44.2 44.2 0 0 0 265.30 55.41Z" fill="#f7c1bf"/>
<path d="M267.69 50.70A49.0 49.0 0 0 1 271.15 51.04L270.51 55.80A44.2 44.2 0 0 0 267.39 55.49Z" fill="#f9d4d3"/>
<path d="M270.00 50.90A49.0 49.0 0 0 1 273.44 51.40L272.57 56.12A44.2 44.2 0 0 0 269.47 55.67Z" fill="#f9d4d3"/>
<path d="M272.30 51.21A49.0 49.0 0 0 1 275.71 51.88L274.62 56.55A44.2 44.2 0 0 0 271.54 55.95Z" fill="#f9d0cf"/>
<path d="M274.57 51.63A49.0 49.0 0 0 1 277.95 52.45L276.64 57.07A44.2 44.2 0 0 0 273.60 56.33Z" fill="#f6bbb9"/>
<path d="M276.83 52.15A49.0 49.0 0 0 1 280.16 53.14L278.64 57.69A44.2 44.2 0 0 0 275.63 56.80Z" fill="#f6bdbb"/>
<path d="M279.06 52.78A49.0 49.0 0 0 1 282.34 53.92L280.60 58.40A44.2 44.2 0 0 0 277.64 57.37Z" fill="#f6bdbb"/>
<path d="M281.26 53.52A49.0 49.0 0 0 1 284.48 54.81L282.53 59.20A44.2 44.2 0 0 0 279.62 58.03Z" fill="#f9d1d0"/>
<path d="M283.42 54.36A49.0 49.0 0 0 1 286.57 55.80L284.42 60.09A44.2 44.2 0 0 0 281.57 58.79Z" fill="#fad7d5"/>
<path d="M285.53 55.30A49.0 49.0 0 0 1 287.60 56.34L285.35 60.57A44.2 44.2 0 0 0 283.48 59.64Z" fill="#fad8d7"/>
<path d="M319.10 99.60A54.5 54.5 0 0 1 318.96 103.46L314.27 103.13A49.8 49.8 0 0 0 314.40 99.60Z" fill="#b7afd5"/>
<path d="M319.04 102.18A54.5 54.5 0 0 1 318.72 106.03L314.05 105.47A49.8 49.8 0 0 0 314.34 101.95Z" fill="#bbb3d7"/>
<path d="M318.86 104.75A54.5 54.5 0 0 1 318.36 108.58L313.72 107.80A49.8 49.8 0 0 0 314.18 104.30Z" fill="#c1bada"/>
<path d="M318.55 107.30A54.5 54.5 0 0 1 317.87 111.11L313.28 110.12A49.8 49.8 0 0 0 313.90 106.64Z" fill="#b8b0d5"/>
<path d="M318.13 109.85A54.5 54.5 0 0 1 317.27 113.61L312.73 112.41A49.8 49.8 0 0 0 313.51 108.96Z" fill="#dbd8ea"/>
<path d="M317.58 112.36A54.5 54.5 0 0 1 316.55 116.09L312.07 114.67A49.8 49.8 0 0 0 313.01 111.26Z" fill="#dddaeb"/>
<path d="M316.92 114.85A54.5 54.5 0 0 1 315.71 118.52L311.30 116.89A49.8 49.8 0 0 0 312.41 113.54Z" fill="#d1cce4"/>
<path d="M316.14 117.31A54.5 54.5 0 0 1 314.76 120.92L310.43 119.08A49.8 49.8 0 0 0 311.70 115.78Z" fill="#d0cbe3"/>
<path d="M315.25 119.73A54.5 54.5 0 0 1 313.69 123.27L309.46 121.22A49.8 49.8 0 0 0 310.88 117.99Z" fill="#d7d2e7"/>
<path d="M314.24 122.10A54.5 54.5 0 0 1 312.52 125.56L308.39 123.32A49.8 49.8 0 0 0 309.96 120.16Z" fill="#cdc7e2"/>
<path d="M313.12 124.42A54.5 54.5 0 0 1 311.24 127.80L307.22 125.36A49.8 49.8 0 0 0 308.94 122.28Z" fill="#c9c3e0"/>
<path d="M311.89 126.69A54.5 54.5 0 0 1 309.85 129.97L305.95 127.35A49.8 49.8 0 0 0 307.81 124.35Z" fill="#d1cce4"/>
<path d="M310.56 128.89A54.5 54.5 0 0 1 308.37 132.07L304.59 129.27A49.8 49.8 0 0 0 306.60 126.36Z" fill="#c7c1de"/>
<path d="M309.12 131.03A54.5 54.5 0 0 1 306.79 134.11L303.15 131.13A49.8 49.8 0 0 0 305.28 128.32Z" fill="#c3bcdc"/>
<path d="M307.59 133.10A54.5 54.5 0 0 1 305.11 136.06L301.61 132.92A49.8 49.8 0 0 0 303.88 130.21Z" fill="#c5bedd"/>
<path d="M305.96 135.09A54.5 54.5 0 0 1 303.34 137.94L300.00 134.63A49.8 49.8 0 0 0 302.39 132.03Z" fill="#c9c3df"/>
<path d="M304.23 137.01A54.5 54.5 0 0 1 301.48 139.72L298.30 136.26A49.8 49.8 0 0 0 300.82 133.78Z" fill="#d3cee5"/>
<path d="M302.42 138.84A54.5 54.5 0 0 1 299.55 141.42L296.53 137.81A49.8 49.8 0 0 0 299.16 135.46Z" fill="#d0cae3"/>
<path d="M300.52 140.58A54.5 54.5 0 0 1 297.53 143.03L294.69 139.28A49.8 49.8 0 0 0 297.43 137.05Z" fill="#d3cee5"/>
<path d="M298.55 142.24A54.5 54.5 0 0 1 295.44 144.53L292.78 140.66A49.8 49.8 0 0 0 295.62 138.56Z" fill="#cdc7e2"/>
<path d="M296.49 143.79A54.5 54.5 0 0 1 293.28 145.94L290.81 141.95A49.8 49.8 0 0 0 293.74 139.98Z" fill="#cec8e2"/>
<path d="M294.37 145.25A54.5 54.5 0 0 1 291.06 147.25L288.78 143.14A49.8 49.8 0 0 0 291.80 141.31Z" fill="#dbd8ea"/>
<path d="M292.18 146.61A54.5 54.5 0 0 1 288.78 148.44L286.69 144.23A49.8 49.8 0 0 0 289.80 142.55Z" fill="#d7d3e8"/>
<path d="M289.93 147.86A54.5 54.5 0 0 1 286.44 149.53L284.56 145.23A49.8 49.8 0 0 0 287.74 143.70Z" fill="#d2cde5"/>
<path d="M287.62 149.00A54.5 54.5 0 0 1 284.06 150.51L282.38 146.12A49.8 49.8 0 0 0 285.63 144.74Z" fill="#d7d2e7"/>
<path d="M285.26 150.03A54.5 54.5 0 0 1 281.63 151.37L280.16 146.91A49.8 49.8 0 0 0 283.47 145.68Z" fill="#dad6e9"/>
<path d="M282.85 150.95A54.5 54.5 0 0 1 279.16 152.12L277.91 147.59A49.8 49.8 0 0 0 281.28 146.53Z" fill="#d8d4e8"/>
<path d="M280.40 151.76A54.5 54.5 0 0 1 276.67 152.75L275.63 148.16A49.8 49.8 0 0 0 279.04 147.26Z" fill="#d9d5e9"/>
<path d="M277.92 152.45A54.5 54.5 0 0 1 274.14 153.26L273.32 148.63A49.8 49.8 0 0 0 276.77 147.89Z" fill="#dad6e9"/>
<path d="M275.41 153.02A54.5 54.5 0 0 1 271.59 153.65L270.99 148.99A49.8 49.8 0 0 0 274.47 148.41Z" fill="#d9d5e9"/>
<path d="M272.87 153.47A54.5 54.5 0 0 1 269.03 153.92L268.65 149.24A49.8 49.8 0 0 0 272.16 148.82Z" fill="#d2cde5"/>
<path d="M270.31 153.80A54.5 54.5 0 0 1 266.46 154.07L266.30 149.37A49.8 49.8 0 0 0 269.82 149.13Z" fill="#ddd9eb"/>
<path d="M267.75 154.01A54.5 54.5 0 0 1 263.88 154.10L263.94 149.40A49.8 49.8 0 0 0 267.47 149.32Z" fill="#ddd9eb"/>
<path d="M265.17 154.10A54.5 54.5 0 0 1 261.31 154.00L261.59 149.31A49.8 49.8 0 0 0 265.12 149.40Z" fill="#dbd7ea"/>
<path d="M262.59 154.06A54.5 54.5 0 0 1 258.74 153.78L259.25 149.11A49.8 49.8 0 0 0 262.77 149.37Z" fill="#e3e0ef"/>
<path d="M260.02 153.91A54.5 54.5 0 0 1 256.19 153.45L256.91 148.80A49.8 49.8 0 0 0 260.42 149.22Z" fill="#d8d4e8"/>
<path d="M257.46 153.63A54.5 54.5 0 0 1 253.65 152.99L254.59 148.38A49.8 49.8 0 0 0 258.08 148.97Z" fill="#d9d5e9"/>
<path d="M254.91 153.23A54.5 54.5 0 0 1 251.14 152.41L252.30 147.86A49.8 49.8 0 0 0 255.75 148.61Z" fill="#d5d0e6"/>
<path d="M252.39 152.71A54.5 54.5 0 0 1 248.66 151.72L250.03 147.22A49.8 49.8 0 0 0 253.44 148.13Z" fill="#d5d1e7"/>
<path d="M249.89 152.08A54.5 54.5 0 0 1 246.21 150.90L247.80 146.48A49.8 49.8 0 0 0 251.16 147.55Z" fill="#d3cee5"/>
<path d="M247.43 151.32A54.5 54.5 0 0 1 243.81 149.98L245.60 145.63A49.8 49.8 0 0 0 248.91 146.86Z" fill="#dbd7ea"/>
<path d="M245.00 150.46A54.5 54.5 0 0 1 241.45 148.94L243.45 144.68A49.8 49.8 0 0 0 246.69 146.07Z" fill="#d1cce4"/>
<path d="M242.62 149.47A54.5 54.5 0 0 1 239.14 147.79L241.34 143.63A49.8 49.8 0 0 0 244.52 145.17Z" fill="#f2f0f7"/>
<path d="M240.29 148.38A54.5 54.5 0 0 1 236.89 146.53L239.28 142.49A49.8 49.8 0 0 0 242.39 144.17Z" fill="#f3f1f8"/>
<path d="M238.01 147.17A54.5 54.5 0 0 1 234.71 145.17L237.29 141.24A49.8 49.8 0 0 0 240.30 143.07Z" fill="#d4cfe6"/>
<path d="M235.79 145.86A54.5 54.5 0 0 1 232.59 143.71L235.35 139.90A49.8 49.8 0 0 0 238.28 141.87Z" fill="#d9d4e9"/>
<path d="M233.64 144.45A54.5 54.5 0 0 1 230.54 142.14L233.48 138.48A49.8 49.8 0 0 0 236.31 140.58Z" fill="#d9d5e9"/>
<path d="M231.55 142.94A54.5 54.5 0 0 1 228.56 140.49L231.67 136.96A49.8 49.8 0 0 0 234.40 139.20Z" fill="#d8d4e8"/>
<path d="M229.54 141.33A54.5 54.5 0 0 1 226.67 138.74L229.94 135.36A49.8 49.8 0 0 0 232.56 137.73Z" fill="#d5d0e6"/>
<path d="M227.61 139.62A54.5 54.5 0 0 1 224.87 136.90L228.29 133.68A49.8 49.8 0 0 0 230.80 136.17Z" fill="#d5d1e7"/>
<path d="M225.76 137.83A54.5 54.5 0 0 1 223.15 134.98L226.72 131.93A49.8 49.8 0 0 0 229.11 134.53Z" fill="#d1cce4"/>
<path d="M223.99 135.95A54.5 54.5 0 0 1 221.52 132.98L225.24 130.10A49.8 49.8 0 0 0 227.50 132.82Z" fill="#dedaeb"/>
<path d="M222.32 133.99A54.5 54.5 0 0 1 219.99 130.91L223.84 128.21A49.8 49.8 0 0 0 225.97 131.03Z" fill="#d7d3e8"/>
<path d="M220.74 131.96A54.5 54.5 0 0 1 218.56 128.77L222.53 126.25A49.8 49.8 0 0 0 224.53 129.16Z" fill="#d2cde5"/>
<path d="M219.26 129.85A54.5 54.5 0 0 1 217.23 126.56L221.32 124.23A49.8 49.8 0 0 0 223.17 127.24Z" fill="#cfcae3"/>
<path d="M217.88 127.67A54.5 54.5 0 0 1 216.01 124.29L220.20 122.16A49.8 49.8 0 0 0 221.91 125.25Z" fill="#e1deed"/>
<path d="M216.61 125.43A54.5 54.5 0 0 1 214.90 121.96L219.19 120.04A49.8 49.8 0 0 0 220.75 123.20Z" fill="#d8d4e8"/>
<path d="M215.44 123.13A54.5 54.5 0 0 1 213.90 119.59L218.27 117.87A49.8 49.8 0 0 0 219.68 121.10Z" fill="#b9b2d6"/>
<path d="M214.39 120.78A54.5 54.5 0 0 1 213.01 117.17L217.46 115.66A49.8 49.8 0 0 0 218.72 118.96Z" fill="#d2cee5"/>
<path d="M213.44 118.39A54.5 54.5 0 0 1 212.24 114.71L216.75 113.41A49.8 49.8 0 0 0 217.85 116.77Z" fill="#fffefe"/>
<path d="M212.61 115.95A54.5 54.5 0 0 1 211.58 112.22L216.15 111.13A49.8 49.8 0 0 0 217.09 114.54Z" fill="#fce9e9"/>
<path d="M211.89 113.47A54.5 54.5 0 0 1 211.04 109.70L215.66 108.83A49.8 49.8 0 0 0 216.44 112.28Z" fill="#fce9e8"/>
<path d="M211.30 110.97A54.5 54.5 0 0 1 210.63 107.16L215.28 106.51A49.8 49.8 0 0 0 215.89 109.98Z" fill="#fdefee"/>
<path d="M210.82 108.43A54.5 54.5 0 0 1 210.33 104.60L215.01 104.17A49.8 49.8 0 0 0 215.46 107.67Z" fill="#fadddc"/>
<path d="M210.46 105.88A54.5 54.5 0 0 1 210.15 102.03L214.85 101.82A49.8 49.8 0 0 0 215.13 105.34Z" fill="#f8cac9"/>
<path d="M210.23 103.32A54.5 54.5 0 0 1 210.10 99.45L214.80 99.47A49.8 49.8 0 0 0 214.92 103.00Z" fill="#f29e9b"/>
<path d="M210.11 100.74A54.5 54.5 0 0 1 210.17 96.88L214.86 97.11A49.8 49.8 0 0 0 214.81 100.64Z" fill="#f6bab8"/>
<path d="M210.12 98.16A54.5 54.5 0 0 1 210.36 94.31L215.04 94.76A49.8 49.8 0 0 0 214.82 98.29Z" fill="#f6bbba"/>
<path d="M210.25 95.59A54.5 54.5 0 0 1 210.67 91.75L215.32 92.43A49.8 49.8 0 0 0 214.93 95.94Z" fill="#f9d4d2"/>
<path d="M210.50 93.03A54.5 54.5 0 0 1 211.10 89.21L215.71 90.11A49.8 49.8 0 0 0 215.16 93.59Z" fill="#fbdfde"/>
<path d="M210.87 90.48A54.5 54.5 0 0 1 211.65 86.69L216.22 87.81A49.8 49.8 0 0 0 215.50 91.26Z" fill="#fce9e8"/>
<path d="M211.36 87.95A54.5 54.5 0 0 1 212.32 84.20L216.83 85.53A49.8 49.8 0 0 0 215.95 88.95Z" fill="#fdeeed"/>
<path d="M211.97 85.44A54.5 54.5 0 0 1 213.11 81.75L217.55 83.29A49.8 49.8 0 0 0 216.51 86.67Z" fill="#fbe2e1"/>
<path d="M212.70 82.97A54.5 54.5 0 0 1 214.01 79.34L218.37 81.08A49.8 49.8 0 0 0 217.17 84.41Z" fill="#fbdedd"/>
<path d="M213.54 80.54A54.5 54.5 0 0 1 215.02 76.97L219.30 78.92A49.8 49.8 0 0 0 217.95 82.18Z" fill="#fad9d8"/>
<path d="M214.50 78.15A54.5 54.5 0 0 1 216.15 74.65L220.33 76.80A49.8 49.8 0 0 0 218.82 80.00Z" fill="#fadddc"/>
<path d="M215.57 75.80A54.5 54.5 0 0 1 217.38 72.39L221.45 74.73A49.8 49.8 0 0 0 219.80 77.85Z" fill="#fbe2e1"/>
<path d="M216.75 73.51A54.5 54.5 0 0 1 218.72 70.19L222.68 72.72A49.8 49.8 0 0 0 220.88 75.76Z" fill="#f7f6fa"/>
<path d="M218.04 71.28A54.5 54.5 0 0 1 220.16 68.05L223.99 70.77A49.8 49.8 0 0 0 222.05 73.72Z" fill="#e0dced"/>
<path d="M219.43 69.11A54.5 54.5 0 0 1 221.70 65.99L225.40 68.88A49.8 49.8 0 0 0 223.32 71.74Z" fill="#e3e0ef"/>
<path d="M220.92 67.01A54.5 54.5 0 0 1 223.34 64.00L226.90 67.07A49.8 49.8 0 0 0 224.69 69.82Z" fill="#e4e1ef"/>
<path d="M222.51 64.98A54.5 54.5 0 0 1 225.07 62.08L228.48 65.32A49.8 49.8 0 0 0 226.14 67.97Z" fill="#e5e3f0"/>
<path d="M224.19 63.03A54.5 54.5 0 0 1 226.88 60.26L230.14 63.65A49.8 49.8 0 0 0 227.68 66.18Z" fill="#edebf5"/>
<path d="M225.96 61.16A54.5 54.5 0 0 1 228.79 58.52L231.87 62.06A49.8 49.8 0 0 0 229.30 64.48Z" fill="#e7e4f1"/>
<path d="M227.82 59.38A54.5 54.5 0 0 1 230.77 56.87L233.69 60.56A49.8 49.8 0 0 0 231.00 62.85Z" fill="#c6c0de"/>
<path d="M229.77 57.68A54.5 54.5 0 0 1 232.83 55.32L235.57 59.14A49.8 49.8 0 0 0 232.77 61.30Z" fill="#d3cee5"/>
<path d="M231.79 56.08A54.5 54.5 0 0 1 234.95 53.87L237.51 57.81A49.8 49.8 0 0 0 234.62 59.84Z" fill="#dcd8eb"/>
<path d="M233.88 54.58A54.5 54.5 0 0 1 237.15 52.52L239.52 56.58A49.8 49.8 0 0 0 236.53 58.46Z" fill="#f9f8fb"/>
<path d="M236.04 53.18A54.5 54.5 0 0 1 239.40 51.27L241.58 55.44A49.8 49.8 0 0 0 238.51 57.18Z" fill="#fdf2f2"/>
<path d="M238.27 51.88A54.5 54.5 0 0 1 241.72 50.14L243.69 54.40A49.8 49.8 0 0 0 240.54 56.00Z" fill="#fbe4e3"/>
<path d="M240.55 50.69A54.5 54.5 0 0 1 244.08 49.11L245.85 53.46A49.8 49.8 0 0 0 242.63 54.91Z" fill="#fadbda"/>
<path d="M242.89 49.61A54.5 54.5 0 0 1 246.49 48.20L248.05 52.63A49.8 49.8 0 0 0 244.76 53.92Z" fill="#f9d6d5"/>
<path d="M245.28 48.64A54.5 54.5 0 0 1 248.94 47.40L250.29 51.90A49.8 49.8 0 0 0 246.95 53.03Z" fill="#fad7d6"/>
<path d="M247.71 47.78A54.5 54.5 0 0 1 251.42 46.72L252.56 51.28A49.8 49.8 0 0 0 249.17 52.25Z" fill="#fadddc"/>
<path d="M250.18 47.04A54.5 54.5 0 0 1 253.94 46.15L254.86 50.76A49.8 49.8 0 0 0 251.42 51.58Z" fill="#f9f9fc"/>
<path d="M252.68 46.42A54.5 54.5 0 0 1 256.48 45.71L257.18 50.36A49.8 49.8 0 0 0 253.71 51.01Z" fill="#f0eef6"/>
<path d="M255.20 45.92A54.5 54.5 0 0 1 259.03 45.39L259.51 50.06A49.8 49.8 0 0 0 256.01 50.55Z" fill="#eceaf4"/>
<path d="M257.75 45.53A54.5 54.5 0 0 1 261.60 45.18L261.86 49.88A49.8 49.8 0 0 0 258.34 50.19Z" fill="#eeecf5"/>
<path d="M260.32 45.27A54.5 54.5 0 0 1 264.18 45.10L264.21 49.80A49.8 49.8 0 0 0 260.68 49.95Z" fill="#f6f5fa"/>
<path d="M262.89 45.13A54.5 54.5 0 0 1 266.75 45.14L266.57 49.84A49.8 49.8 0 0 0 263.04 49.82Z" fill="#f7f6fa"/>
<path d="M265.46 45.11A54.5 54.5 0 0 1 269.32 45.31L268.92 49.99A49.8 49.8 0 0 0 265.39 49.81Z" fill="#f5f4f9"/>
<path d="M268.04 45.21A54.5 54.5 0 0 1 271.89 45.59L271.26 50.25A49.8 49.8 0 0 0 267.74 49.90Z" fill="#faf9fc"/>
<path d="M270.61 45.43A54.5 54.5 0 0 1 274.43 45.99L273.58 50.62A49.8 49.8 0 0 0 270.09 50.10Z" fill="#eceaf4"/>
<path d="M273.16 45.78A54.5 54.5 0 0 1 276.95 46.52L275.89 51.10A49.8 49.8 0 0 0 272.42 50.42Z" fill="#f0eef6"/>
<path d="M275.69 46.24A54.5 54.5 0 0 1 279.45 47.16L278.17 51.68A49.8 49.8 0 0 0 274.74 50.84Z" fill="#fffdfd"/>
<path d="M278.20 46.83A54.5 54.5 0 0 1 281.91 47.92L280.42 52.38A49.8 49.8 0 0 0 277.03 51.38Z" fill="#fefaf9"/>
<path d="M280.68 47.53A54.5 54.5 0 0 1 284.33 48.80L282.63 53.18A49.8 49.8 0 0 0 279.30 52.02Z" fill="#fffefe"/>
<path d="M283.13 48.35A54.5 54.5 0 0 1 286.71 49.79L284.80 54.08A49.8 49.8 0 0 0 281.53 52.77Z" fill="#f7f6fa"/>
<path d="M285.53 49.28A54.5 54.5 0 0 1 289.04 50.89L286.93 55.09A49.8 49.8 0 0 0 283.72 53.62Z" fill="#faf9fc"/>
<path d="M287.88 50.32A54.5 54.5 0 0 1 290.19 51.48L287.98 55.63A49.8 49.8 0 0 0 285.88 54.57Z" fill="#fcfcfe"/>
</g>
<g filter="url(#tx)" font-family='"Liberation Sans", sans-serif' font-size="1.75" fill="#181818" class="rl">
<text transform="translate(320.98 100.93) rotate(1.35)" dy="0.35em" textLength="24.00" lengthAdjust="spacingAndGlyphs">Total Cholesterol Minus HDL-C</text>
<text transform="translate(320.86 103.60) rotate(4.06)" dy="0.35em" textLength="24.00" lengthAdjust="spacingAndGlyphs">Free Cholesterol in Large HDL</text>
<text transform="translate(320.61 106.25) rotate(6.77)" dy="0.35em" textLength="12.50" lengthAdjust="spacingAndGlyphs">LDL Cholesterol</text>
<text transform="translate(320.23 108.89) rotate(9.48)" dy="0.35em" textLength="17.00" lengthAdjust="spacingAndGlyphs">Total Free Cholesterol</text>
<text transform="translate(319.73 111.51) rotate(12.19)" dy="0.35em" textLength="19.67" lengthAdjust="spacingAndGlyphs">Cholesterol in Large HDL</text>
<text transform="translate(319.10 114.10) rotate(14.90)" dy="0.35em" textLength="21.99" lengthAdjust="spacingAndGlyphs">Triglycerides in Medium LDL</text>
<text transform="translate(318.36 116.66) rotate(17.61)" dy="0.35em" textLength="21.52" lengthAdjust="spacingAndGlyphs">Triglycerides in Large VLDL</text>
<text transform="translate(317.49 119.18) rotate(20.32)" dy="0.35em" textLength="24.88" lengthAdjust="spacingAndGlyphs">Cholesterol Esters in Small HDL</text>
<text transform="translate(316.51 121.66) rotate(23.03)" dy="0.35em" textLength="24.29" lengthAdjust="spacingAndGlyphs">Phospholipids in Medium VLDL</text>
<text transform="translate(315.41 124.09) rotate(25.74)" dy="0.35em" textLength="23.90" lengthAdjust="spacingAndGlyphs">Cholesterol in Very Large HDL</text>
<text transform="translate(314.19 126.46) rotate(28.45)" dy="0.35em" textLength="23.77" lengthAdjust="spacingAndGlyphs">Free Cholesterol in Small HDL</text>
<text transform="translate(312.87 128.78) rotate(31.15)" dy="0.35em" textLength="24.53" lengthAdjust="spacingAndGlyphs">Free Cholesterol in Large VLDL</text>
<text transform="translate(311.43 131.03) rotate(33.86)" dy="0.35em" textLength="21.56" lengthAdjust="spacingAndGlyphs">Phospholipids in Small HDL</text>
<text transform="translate(309.89 133.21) rotate(36.57)" dy="0.35em" textLength="29.30" lengthAdjust="spacingAndGlyphs">Cholesterol Esters in Very Large HDL</text>
<text transform="translate(308.26 135.31) rotate(39.28)" dy="0.35em" textLength="21.94" lengthAdjust="spacingAndGlyphs">Total Lipids in Medium VLDL</text>
<text transform="translate(306.52 137.33) rotate(41.99)" dy="0.35em" textLength="26.63" lengthAdjust="spacingAndGlyphs">Phospholipids in Very Large VLDL</text>
<text transform="translate(304.69 139.27) rotate(44.70)" dy="0.35em" textLength="21.82" lengthAdjust="spacingAndGlyphs">Phospholipids in Large HDL</text>
<text transform="translate(302.77 141.12) rotate(47.41)" dy="0.35em" textLength="26.65" lengthAdjust="spacingAndGlyphs">Mean Diameter for VLDL Particles</text>
<text transform="translate(300.76 142.88) rotate(50.12)" dy="0.35em" textLength="22.46" lengthAdjust="spacingAndGlyphs">Phospholipids in Small VLDL</text>
<text transform="translate(298.68 144.54) rotate(52.83)" dy="0.35em" textLength="26.40" lengthAdjust="spacingAndGlyphs">Cholesterol Esters in Medium HDL</text>
<text transform="translate(296.52 146.10) rotate(55.54)" dy="0.35em" textLength="24.58" lengthAdjust="spacingAndGlyphs">Total Lipids in Very Large VLDL</text>
<text transform="translate(294.28 147.56) rotate(58.25)" dy="0.35em" textLength="25.25" lengthAdjust="spacingAndGlyphs">Cholesterol Esters in Large HDL</text>
<text transform="translate(291.98 148.91) rotate(60.95)" dy="0.35em" textLength="28.05" lengthAdjust="spacingAndGlyphs">Total Concentration of HDL Particles</text>
<text transform="translate(289.62 150.15) rotate(63.66)" dy="0.35em" textLength="23.11" lengthAdjust="spacingAndGlyphs">Concentration of IDL Particles</text>
<text transform="translate(287.20 151.27) rotate(66.37)" dy="0.35em" textLength="23.36" lengthAdjust="spacingAndGlyphs">Phospholipids in Medium HDL</text>
<text transform="translate(284.74 152.28) rotate(69.08)" dy="0.35em" textLength="28.49" lengthAdjust="spacingAndGlyphs">Concentration of Large LDL Particles</text>
<text transform="translate(282.22 153.18) rotate(71.79)" dy="0.35em" textLength="26.05" lengthAdjust="spacingAndGlyphs">Phospholipids in Very Large HDL</text>
<text transform="translate(279.67 153.95) rotate(74.50)" dy="0.35em" textLength="32.60" lengthAdjust="spacingAndGlyphs">Concentration of Very Large HDL Particles</text>
<text transform="translate(277.09 154.60) rotate(77.21)" dy="0.35em" textLength="28.92" lengthAdjust="spacingAndGlyphs">Concentration of Large HDL Particles</text>
<text transform="translate(274.47 155.13) rotate(79.92)" dy="0.35em" textLength="28.68" lengthAdjust="spacingAndGlyphs">Concentration of Small HDL Particles</text>
<text transform="translate(271.84 155.53) rotate(82.63)" dy="0.35em" textLength="23.68" lengthAdjust="spacingAndGlyphs">Total Lipids in Very Large HDL</text>
<text transform="translate(269.19 155.81) rotate(85.34)" dy="0.35em" textLength="25.54" lengthAdjust="spacingAndGlyphs">Triglycerides in Very Large VLDL</text>
<text transform="translate(266.52 155.97) rotate(88.05)" dy="0.35em" textLength="23.81" lengthAdjust="spacingAndGlyphs">Triglycerides in Medium VLDL</text>
<text transform="translate(263.86 156.00) rotate(270.75)" dy="0.35em" text-anchor="end" textLength="24.90" lengthAdjust="spacingAndGlyphs">Free Cholesterol in Medium HDL</text>
<text transform="translate(261.19 155.90) rotate(273.46)" dy="0.35em" text-anchor="end" textLength="26.84" lengthAdjust="spacingAndGlyphs">Free Cholesterol in Very Large HDL</text>
<text transform="translate(258.54 155.67) rotate(276.17)" dy="0.35em" text-anchor="end" textLength="24.19" lengthAdjust="spacingAndGlyphs">Mean Diameter for HDL Particles</text>
<text transform="translate(255.89 155.32) rotate(278.88)" dy="0.35em" text-anchor="end" textLength="27.48" lengthAdjust="spacingAndGlyphs">Concentration of Small VLDL Particles</text>
<text transform="translate(253.27 154.85) rotate(281.59)" dy="0.35em" text-anchor="end" textLength="23.69" lengthAdjust="spacingAndGlyphs">Monounsaturated Fatty Acids</text>
<text transform="translate(250.67 154.25) rotate(284.30)" dy="0.35em" text-anchor="end" textLength="31.60" lengthAdjust="spacingAndGlyphs">Concentration of Medium VLDL Particles</text>
<text transform="translate(248.10 153.53) rotate(287.01)" dy="0.35em" text-anchor="end" textLength="28.46" lengthAdjust="spacingAndGlyphs">Concentration of Large VLDL Particles</text>
<text transform="translate(245.57 152.69) rotate(289.72)" dy="0.35em" text-anchor="end" textLength="26.06" lengthAdjust="spacingAndGlyphs">Phospholipids in Very Large HDL</text>
<text transform="translate(243.08 151.73) rotate(292.43)" dy="0.35em" text-anchor="end" textLength="26.26" lengthAdjust="spacingAndGlyphs">Mean Diameter for VLDL Particles</text>
<text transform="translate(240.64 150.66) rotate(295.14)" dy="0.35em" text-anchor="end" textLength="27.41" lengthAdjust="spacingAndGlyphs">Concentration of Medium HDL Particles</text>
<text transform="translate(238.26 149.47) rotate(297.85)" dy="0.35em" text-anchor="end" textLength="26.79" lengthAdjust="spacingAndGlyphs">Cholesterol Esters in Medium HDL</text>
<text transform="translate(235.93 148.17) rotate(300.55)" dy="0.35em" text-anchor="end" textLength="26.31" lengthAdjust="spacingAndGlyphs">Mean Diameter for VLDL Particles</text>
<text transform="translate(233.67 146.76) rotate(303.26)" dy="0.35em" text-anchor="end" textLength="24.18" lengthAdjust="spacingAndGlyphs">Phospholipids in Large VLDL</text>
<text transform="translate(231.47 145.24) rotate(305.97)" dy="0.35em" text-anchor="end" textLength="28.36" lengthAdjust="spacingAndGlyphs">Total Concentration of HDL Particles</text>
<text transform="translate(229.35 143.63) rotate(308.68)" dy="0.35em" text-anchor="end" textLength="29.80" lengthAdjust="spacingAndGlyphs">Concentration of Large VLDL Particles</text>
<text transform="translate(227.31 141.91) rotate(311.39)" dy="0.35em" text-anchor="end" textLength="29.86" lengthAdjust="spacingAndGlyphs">Concentration of Large VLDL Particles</text>
<text transform="translate(225.35 140.10) rotate(314.10)" dy="0.35em" text-anchor="end" textLength="27.98" lengthAdjust="spacingAndGlyphs">Total Concentration of HDL Particles</text>
<text transform="translate(223.48 138.20) rotate(316.81)" dy="0.35em" text-anchor="end" textLength="26.14" lengthAdjust="spacingAndGlyphs">Mean Diameter for VLDL Particles</text>
<text transform="translate(221.70 136.22) rotate(319.52)" dy="0.35em" text-anchor="end" textLength="26.18" lengthAdjust="spacingAndGlyphs">Mean Diameter for VLDL Particles</text>
<text transform="translate(220.02 134.15) rotate(322.23)" dy="0.35em" text-anchor="end" textLength="27.25" lengthAdjust="spacingAndGlyphs">Cholesterol Esters in Medium HDL</text>
<text transform="translate(218.44 132.00) rotate(324.94)" dy="0.35em" text-anchor="end" textLength="26.07" lengthAdjust="spacingAndGlyphs">Phospholipids in Very Large HDL</text>
<text transform="translate(216.96 129.78) rotate(327.65)" dy="0.35em" text-anchor="end" textLength="21.62" lengthAdjust="spacingAndGlyphs">Polyunsaturated Fatty Acids</text>
<text transform="translate(215.58 127.50) rotate(330.35)" dy="0.35em" text-anchor="end" textLength="21.09" lengthAdjust="spacingAndGlyphs">Cholesterol in Medium LDL</text>
<text transform="translate(214.32 125.15) rotate(333.06)" dy="0.35em" text-anchor="end" textLength="19.42" lengthAdjust="spacingAndGlyphs">Total Lipids in Small HDL</text>
<text transform="translate(213.17 122.74) rotate(335.77)" dy="0.35em" text-anchor="end" textLength="17.87" lengthAdjust="spacingAndGlyphs">Free Cholesterol in IDL</text>
<text transform="translate(212.13 120.29) rotate(338.48)" dy="0.35em" text-anchor="end" textLength="17.23" lengthAdjust="spacingAndGlyphs">Docosahexaenoic Acid</text>
<text transform="translate(211.21 117.78) rotate(341.19)" dy="0.35em" text-anchor="end" textLength="13.01" lengthAdjust="spacingAndGlyphs">Total Cholesterol</text>
<text transform="translate(210.41 115.24) rotate(343.90)" dy="0.35em" text-anchor="end" textLength="7.92" lengthAdjust="spacingAndGlyphs">Isoleucine</text>
<text transform="translate(209.73 112.66) rotate(346.61)" dy="0.35em" text-anchor="end" textLength="11.07" lengthAdjust="spacingAndGlyphs">Phenylalanine</text>
<text transform="translate(209.18 110.05) rotate(349.32)" dy="0.35em" text-anchor="end" textLength="9.32" lengthAdjust="spacingAndGlyphs">Linoleic Acid</text>
<text transform="translate(208.75 107.42) rotate(352.03)" dy="0.35em" text-anchor="end" textLength="10.45" lengthAdjust="spacingAndGlyphs">Acetoacetate</text>
<text transform="translate(208.44 104.77) rotate(354.74)" dy="0.35em" text-anchor="end" textLength="9.27" lengthAdjust="spacingAndGlyphs">Creatinine</text>
<text transform="translate(208.26 102.11) rotate(357.45)" dy="0.35em" text-anchor="end" textLength="13.01" lengthAdjust="spacingAndGlyphs">Apolipoprotein B</text>
<text transform="translate(208.20 99.45) rotate(360.15)" dy="0.35em" text-anchor="end" textLength="15.17" lengthAdjust="spacingAndGlyphs">Triglycerides in LDL</text>
<text transform="translate(208.27 96.78) rotate(362.86)" dy="0.35em" text-anchor="end" textLength="14.77" lengthAdjust="spacingAndGlyphs">Phosphoglycerides</text>
<text transform="translate(208.47 94.12) rotate(365.57)" dy="0.35em" text-anchor="end" textLength="8.04" lengthAdjust="spacingAndGlyphs">Glutamine</text>
<text transform="translate(208.79 91.48) rotate(368.28)" dy="0.35em" text-anchor="end" textLength="11.82" lengthAdjust="spacingAndGlyphs">Sphingomyelins</text>
<text transform="translate(209.23 88.85) rotate(370.99)" dy="0.35em" text-anchor="end" textLength="11.40" lengthAdjust="spacingAndGlyphs">Total Cholines</text>
<text transform="translate(209.80 86.24) rotate(373.70)" dy="0.35em" text-anchor="end" textLength="17.44" lengthAdjust="spacingAndGlyphs">Saturated Fatty Acids</text>
<text transform="translate(210.50 83.67) rotate(376.41)" dy="0.35em" text-anchor="end" textLength="17.10" lengthAdjust="spacingAndGlyphs">Triglycerides in VLDL</text>
<text transform="translate(211.31 81.13) rotate(379.12)" dy="0.35em" text-anchor="end" textLength="21.62" lengthAdjust="spacingAndGlyphs">Triglycerides in Small VLDL</text>
<text transform="translate(212.24 78.63) rotate(381.83)" dy="0.35em" text-anchor="end" textLength="24.35" lengthAdjust="spacingAndGlyphs">Triglycerides in Medium HDL</text>
<text transform="translate(213.29 76.18) rotate(384.54)" dy="0.35em" text-anchor="end" textLength="28.42" lengthAdjust="spacingAndGlyphs">Concentration of Large LDL Particles</text>
<text transform="translate(214.46 73.78) rotate(387.25)" dy="0.35em" text-anchor="end" textLength="25.48" lengthAdjust="spacingAndGlyphs">Free Cholesterol in Medium HDL</text>
<text transform="translate(215.73 71.44) rotate(389.95)" dy="0.35em" text-anchor="end" textLength="28.13" lengthAdjust="spacingAndGlyphs">Total Concentration of HDL Particles</text>
<text transform="translate(217.12 69.16) rotate(392.66)" dy="0.35em" text-anchor="end" textLength="26.83" lengthAdjust="spacingAndGlyphs">Cholesterol Esters in Medium HDL</text>
<text transform="translate(218.61 66.95) rotate(395.37)" dy="0.35em" text-anchor="end" textLength="27.47" lengthAdjust="spacingAndGlyphs">Free Cholesterol in Very Large HDL</text>
<text transform="translate(220.21 64.81) rotate(398.08)" dy="0.35em" text-anchor="end" textLength="28.84" lengthAdjust="spacingAndGlyphs">Concentration of Small HDL Particles</text>
<text transform="translate(221.90 62.75) rotate(400.79)" dy="0.35em" text-anchor="end" textLength="31.94" lengthAdjust="spacingAndGlyphs">Total Phospholipids in Lipoprotein Particles</text>
<text transform="translate(223.69 60.78) rotate(403.50)" dy="0.35em" text-anchor="end" textLength="29.27" lengthAdjust="spacingAndGlyphs">Cholesterol Esters in Very Large HDL</text>
<text transform="translate(225.57 58.89) rotate(406.21)" dy="0.35em" text-anchor="end" textLength="32.33" lengthAdjust="spacingAndGlyphs">Ratio of Triglycerides to Phosphoglycerides</text>
<text transform="translate(227.54 57.09) rotate(408.92)" dy="0.35em" text-anchor="end" textLength="27.80" lengthAdjust="spacingAndGlyphs">Free Cholesterol in Very Large HDL</text>
<text transform="translate(229.59 55.38) rotate(411.63)" dy="0.35em" text-anchor="end" textLength="32.54" lengthAdjust="spacingAndGlyphs">Concentration of Very Large VLDL Particles</text>
<text transform="translate(231.72 53.78) rotate(414.34)" dy="0.35em" text-anchor="end" textLength="29.39" lengthAdjust="spacingAndGlyphs">Cholesterol Esters in Very Large HDL</text>
<text transform="translate(233.92 52.27) rotate(417.05)" dy="0.35em" text-anchor="end" textLength="28.54" lengthAdjust="spacingAndGlyphs">Concentration of Large LDL Particles</text>
<text transform="translate(236.19 50.88) rotate(419.75)" dy="0.35em" text-anchor="end" textLength="32.10" lengthAdjust="spacingAndGlyphs">Ratio of Apolipoprotein B to Apolipoprotein A1</text>
<text transform="translate(238.53 49.59) rotate(422.46)" dy="0.35em" text-anchor="end" textLength="33.28" lengthAdjust="spacingAndGlyphs">Total Phospholipids in Lipoprotein Particles</text>
<text transform="translate(240.92 48.41) rotate(425.17)" dy="0.35em" text-anchor="end" textLength="35.00" lengthAdjust="spacingAndGlyphs">Phospholipids to Total Lipids Ratio in Large HDL</text>
<text transform="translate(243.36 47.35) rotate(427.88)" dy="0.35em" text-anchor="end" textLength="28.59" lengthAdjust="spacingAndGlyphs">Concentration of Large LDL Particles</text>
<text transform="translate(245.86 46.41) rotate(430.59)" dy="0.35em" text-anchor="end" textLength="30.65" lengthAdjust="spacingAndGlyphs">Concentration of Medium HDL Particles</text>
<text transform="translate(248.39 45.58) rotate(433.30)" dy="0.35em" text-anchor="end" textLength="27.12" lengthAdjust="spacingAndGlyphs">Cholesterol Esters in Medium HDL</text>
<text transform="translate(250.96 44.87) rotate(436.01)" dy="0.35em" text-anchor="end" textLength="45.00" lengthAdjust="spacingAndGlyphs">Concentration of Chylomicrons and Extremely Large VLDL</text>
<text transform="translate(253.57 44.29) rotate(438.72)" dy="0.35em" text-anchor="end" textLength="23.21" lengthAdjust="spacingAndGlyphs">Cholesterol in Medium VLDL</text>
<text transform="translate(256.19 43.83) rotate(441.43)" dy="0.35em" text-anchor="end" textLength="22.44" lengthAdjust="spacingAndGlyphs">Phospholipids in Large LDL</text>
<text transform="translate(258.84 43.50) rotate(444.14)" dy="0.35em" text-anchor="end" textLength="25.06" lengthAdjust="spacingAndGlyphs">Cholesterol Esters in Large HDL</text>
<text transform="translate(261.50 43.29) rotate(446.85)" dy="0.35em" text-anchor="end" textLength="26.41" lengthAdjust="spacingAndGlyphs">Mean Diameter for VLDL Particles</text>
<text transform="translate(264.16 43.20) rotate(449.55)" dy="0.35em" text-anchor="end" textLength="25.67" lengthAdjust="spacingAndGlyphs">Phospholipids in Very Large HDL</text>
<text transform="translate(266.83 43.24) rotate(272.26)" dy="0.35em" textLength="21.86" lengthAdjust="spacingAndGlyphs">Cholesterol in Medium HDL</text>
<text transform="translate(269.49 43.41) rotate(274.97)" dy="0.35em" textLength="18.15" lengthAdjust="spacingAndGlyphs">Clinical LDL Cholesterol</text>
<text transform="translate(272.14 43.71) rotate(277.68)" dy="0.35em" textLength="20.47" lengthAdjust="spacingAndGlyphs">Total Lipids in Large VLDL</text>
<text transform="translate(274.77 44.12) rotate(280.39)" dy="0.35em" textLength="23.77" lengthAdjust="spacingAndGlyphs">Total Lipids in Medium HDL</text>
<text transform="translate(277.38 44.67) rotate(283.10)" dy="0.35em" textLength="41.00" lengthAdjust="spacingAndGlyphs">Total Concentration of Branched-Chain Amino Acids</text>
<text transform="translate(279.97 45.33) rotate(285.81)" dy="0.35em" textLength="20.00" lengthAdjust="spacingAndGlyphs">Triglycerides in Small LDL</text>
<text transform="translate(282.51 46.12) rotate(288.52)" dy="0.35em" textLength="21.32" lengthAdjust="spacingAndGlyphs">Total Esterified Cholesterol</text>
<text transform="translate(285.02 47.03) rotate(291.23)" dy="0.35em" textLength="38.00" lengthAdjust="spacingAndGlyphs">Phospholipids to Total Lipids Ratio in Large HDL</text>
<text transform="translate(287.48 48.05) rotate(293.94)" dy="0.35em" textLength="18.00" lengthAdjust="spacingAndGlyphs">Total Lipids in Large LDL</text>
<text transform="translate(289.89 49.19) rotate(296.65)" dy="0.35em" textLength="42.50" lengthAdjust="spacingAndGlyphs">Remnant Cholesterol (Non-HDL, Non-LDL Cholesterol)</text>
</g>
<g filter="url(#tx)" font-family='"Liberation Sans", sans-serif' font-size="3.35" fill="#111" class="rw">
<text transform="translate(282.60 67.39) rotate(390.00)" dy="0.35em">Manic and depressive (Ref:Depressive)</text>
<text transform="translate(287.33 58.92) rotate(390.00)" dy="0.35em">Manic and depressive (Ref:Manic)</text>
<text transform="translate(290.04 54.08) rotate(390.00)" dy="0.35em">Depressive (Ref:Manic)</text>
</g>
<defs><linearGradient id="lgB" x1="0" y1="0" x2="0" y2="1"><stop offset="0" stop-color="#e3302a"/><stop offset="0.5" stop-color="#fff"/><stop offset="1" stop-color="#260e80"/></linearGradient></defs><rect x="327.2" y="32.9" width="3.5" height="17.6" fill="url(#lgB)" filter="url(#bl)"/><g filter="url(#tx)" font-family='"Liberation Sans", sans-serif' font-size="2.9" fill="#111"><text x="332.0" y="31.299999999999997" font-weight="bold" font-size="2.8">B</text><text x="331.7" y="34.40">0.2</text><text x="331.7" y="38.55">0.1</text><text x="331.7" y="42.70">0</text><text x="331.7" y="46.85">-0.1</text><text x="331.7" y="51.00">-0.2</text></g>
<g filter="url(#tx)" font-family='"Liberation Sans", sans-serif' font-size="9" font-weight="bold" fill="#111" class="pl"><text x="13.3" y="16.6">a</text><text x="182" y="16.4">b</text><text x="13.3" y="197.4">c</text></g>
<path d="M20.6 207.6V371.0H167" fill="none" stroke="#666" stroke-width="0.5"/>
<g filter="url(#tx)" font-family='"Liberation Sans", sans-serif' font-size="3.3" fill="#4d4d4d" class="yt" text-anchor="end">
<text x="18.7" y="215.95">0.5</text>
<text x="18.7" y="230.83">0.4</text>
<text x="18.7" y="245.71">0.3</text>
<text x="18.7" y="260.59">0.2</text>
<text x="18.7" y="275.47">0.1</text>
<text x="18.7" y="290.35">0.0</text>
<text x="18.7" y="305.23">-0.1</text>
<text x="18.7" y="320.11">-0.2</text>
<text x="18.7" y="334.99">-0.3</text>
<text x="18.7" y="349.87">-0.4</text>
<text x="18.7" y="364.75">-0.5</text>
</g>
<g filter="url(#tx)" font-family='"Liberation Sans", sans-serif' font-size="3.45" fill="#222" text-anchor="middle">
<text x="47.0" y="375.5">Euthymic</text>
<text x="75.1" y="375.5">Manic</text>
<text x="106.8" y="375.5">Depressive</text>
<text x="146.4" y="375.5">Manic and Depressive</text>
<text transform="translate(10.9 291) rotate(-90)" font-size="3.35">Mean Value</text>
</g>
<g filter="url(#bl2)">
<path d="M42.40 296.64L78.60 278.93L115.00 286.22L151.40 271.05" fill="none" stroke="#243240" stroke-width="0.55" stroke-opacity="0.85" stroke-linejoin="round"/>
<path d="M42.40 298.13L78.60 282.50L115.00 289.20L151.40 272.68" fill="none" stroke="#243240" stroke-width="0.55" stroke-opacity="0.85" stroke-linejoin="round"/>
<path d="M42.40 298.13L78.60 285.93L115.00 292.18L151.40 273.58" fill="none" stroke="#243240" stroke-width="0.55" stroke-opacity="0.85" stroke-linejoin="round"/>
<path d="M42.40 294.97L78.60 274.39L115.00 282.16L151.40 260.32" fill="none" stroke="#4aa8da" stroke-width="0.6" stroke-opacity="0.8" stroke-linejoin="round"/>
<path d="M42.40 295.66L78.60 275.35L115.00 282.16L151.40 260.76" fill="none" stroke="#4aa8da" stroke-width="0.6" stroke-opacity="0.8" stroke-linejoin="round"/>
<path d="M42.40 295.17L78.60 275.79L115.00 283.07L151.40 261.64" fill="none" stroke="#4aa8da" stroke-width="0.6" stroke-opacity="0.8" stroke-linejoin="round"/>
<path d="M42.40 296.77L78.60 276.16L115.00 283.62L151.40 262.26" fill="none" stroke="#4aa8da" stroke-width="0.6" stroke-opacity="0.8" stroke-linejoin="round"/>
<path d="M42.40 297.17L78.60 277.96L115.00 284.84L151.40 263.46" fill="none" stroke="#4aa8da" stroke-width="0.6" stroke-opacity="0.8" stroke-linejoin="round"/>
<path d="M42.40 296.66L78.60 277.84L115.00 284.80L151.40 264.31" fill="none" stroke="#4aa8da" stroke-width="0.6" stroke-opacity="0.8" stroke-linejoin="round"/>
<path d="M42.40 297.05L78.60 278.29L115.00 285.92L151.40 264.02" fill="none" stroke="#4aa8da" stroke-width="0.6" stroke-opacity="0.8" stroke-linejoin="round"/>
<path d="M42.40 297.33L78.60 278.57L115.00 286.50L151.40 265.88" fill="none" stroke="#4aa8da" stroke-width="0.6" stroke-opacity="0.8" stroke-linejoin="round"/>
<path d="M42.40 298.12L78.60 279.79L115.00 286.54L151.40 266.21" fill="none" stroke="#4aa8da" stroke-width="0.6" stroke-opacity="0.8" stroke-linejoin="round"/>
<path d="M42.40 298.56L78.60 280.81L115.00 287.65L151.40 266.54" fill="none" stroke="#4aa8da" stroke-width="0.6" stroke-opacity="0.8" stroke-linejoin="round"/>
<path d="M42.40 299.11L78.60 280.92L115.00 287.82L151.40 268.52" fill="none" stroke="#4aa8da" stroke-width="0.6" stroke-opacity="0.8" stroke-linejoin="round"/>
<path d="M42.40 299.11L78.60 281.09L115.00 289.50L151.40 268.76" fill="none" stroke="#4aa8da" stroke-width="0.6" stroke-opacity="0.8" stroke-linejoin="round"/>
<path d="M42.40 299.57L78.60 282.67L115.00 288.98L151.40 269.41" fill="none" stroke="#4aa8da" stroke-width="0.6" stroke-opacity="0.8" stroke-linejoin="round"/>
<path d="M42.40 300.57L78.60 282.58L115.00 289.50L151.40 269.73" fill="none" stroke="#4aa8da" stroke-width="0.6" stroke-opacity="0.8" stroke-linejoin="round"/>
<path d="M42.40 280.59L78.60 303.08L115.00 305.23L151.40 320.09" fill="none" stroke="#4aa8da" stroke-width="0.6" stroke-opacity="0.8" stroke-linejoin="round"/>
<path d="M42.40 281.63L78.60 303.98L115.00 305.81L151.40 320.77" fill="none" stroke="#4aa8da" stroke-width="0.6" stroke-opacity="0.8" stroke-linejoin="round"/>
<path d="M42.40 282.90L78.60 304.57L115.00 305.71L151.40 321.69" fill="none" stroke="#4aa8da" stroke-width="0.6" stroke-opacity="0.8" stroke-linejoin="round"/>
<path d="M42.40 283.85L78.60 304.96L115.00 306.07L151.40 321.60" fill="none" stroke="#4aa8da" stroke-width="0.6" stroke-opacity="0.8" stroke-linejoin="round"/>
<path d="M42.40 284.78L78.60 306.39L115.00 306.80L151.40 322.68" fill="none" stroke="#4aa8da" stroke-width="0.6" stroke-opacity="0.8" stroke-linejoin="round"/>
<path d="M42.40 285.35L78.60 305.97L115.00 306.99L151.40 323.10" fill="none" stroke="#4aa8da" stroke-width="0.6" stroke-opacity="0.8" stroke-linejoin="round"/>
<path d="M42.40 285.74L78.60 306.74L115.00 307.25L151.40 323.65" fill="none" stroke="#4aa8da" stroke-width="0.6" stroke-opacity="0.8" stroke-linejoin="round"/>
<path d="M42.40 286.46L78.60 307.32L115.00 308.60L151.40 324.14" fill="none" stroke="#4aa8da" stroke-width="0.6" stroke-opacity="0.8" stroke-linejoin="round"/>
<path d="M42.40 287.13L78.60 307.94L115.00 309.13L151.40 325.40" fill="none" stroke="#4aa8da" stroke-width="0.6" stroke-opacity="0.8" stroke-linejoin="round"/>
<path d="M42.40 296.64L78.60 284.74L115.00 289.20L151.40 275.81" fill="none" stroke="#4aa8da" stroke-width="0.6" stroke-opacity="0.8" stroke-linejoin="round"/>
<path d="M42.40 286.22L78.60 295.60L115.00 292.47L151.40 296.94" fill="none" stroke="#3fb5b0" stroke-width="0.6" stroke-opacity="0.95" stroke-linejoin="round"/>
<path d="M42.40 295.90L78.60 280.27L115.00 287.71L151.40 266.88" fill="none" stroke="#3fb5b0" stroke-width="0.6" stroke-opacity="0.95" stroke-linejoin="round"/>
<path d="M42.40 302.89L78.60 305.57L115.00 292.47L151.40 290.54" fill="none" stroke="#ee5f4d" stroke-width="0.6" stroke-opacity="0.95" stroke-linejoin="round"/>
<path d="M42.40 301.10L78.60 285.03L115.00 272.53L151.40 261.52" fill="none" stroke="#f2c230" stroke-width="0.6" stroke-opacity="0.95" stroke-linejoin="round"/>
<path d="M42.40 285.33L78.60 304.08L115.00 306.31L151.40 304.68" fill="none" stroke="#f2c230" stroke-width="0.6" stroke-opacity="0.95" stroke-linejoin="round"/>
<path d="M42.40 284.74L78.60 286.22L115.00 305.87L151.40 304.68" fill="none" stroke="#f2c230" stroke-width="0.6" stroke-opacity="0.95" stroke-linejoin="round"/>
<path d="M42.40 282.50L78.60 304.97L115.00 304.97L151.40 342.32" fill="none" stroke="#5ab432" stroke-width="0.6" stroke-opacity="0.95" stroke-linejoin="round"/>
<path d="M42.40 284.74L78.60 311.82L115.00 314.50L151.40 342.32" fill="none" stroke="#5ab432" stroke-width="0.6" stroke-opacity="0.95" stroke-linejoin="round"/>
<path d="M42.40 283.99L78.60 308.54L115.00 305.57L151.40 341.28" fill="none" stroke="#5ab432" stroke-width="0.6" stroke-opacity="0.95" stroke-linejoin="round"/>
<rect x="41.80" y="296.04" width="1.2" height="1.2" fill="#243240"/>
<rect x="78.00" y="278.33" width="1.2" height="1.2" fill="#243240"/>
<rect x="114.40" y="285.62" width="1.2" height="1.2" fill="#243240"/>
<rect x="150.80" y="270.45" width="1.2" height="1.2" fill="#243240"/>
<rect x="41.80" y="297.53" width="1.2" height="1.2" fill="#243240"/>
<rect x="78.00" y="281.90" width="1.2" height="1.2" fill="#243240"/>
<rect x="114.40" y="288.60" width="1.2" height="1.2" fill="#243240"/>
<rect x="150.80" y="272.08" width="1.2" height="1.2" fill="#243240"/>
<rect x="41.80" y="297.53" width="1.2" height="1.2" fill="#243240"/>
<rect x="78.00" y="285.33" width="1.2" height="1.2" fill="#243240"/>
<rect x="114.40" y="291.58" width="1.2" height="1.2" fill="#243240"/>
<rect x="150.80" y="272.98" width="1.2" height="1.2" fill="#243240"/>
<circle cx="42.40" cy="294.97" r="0.6" fill="#4aa8da"/>
<circle cx="78.60" cy="274.39" r="0.6" fill="#4aa8da"/>
<circle cx="115.00" cy="282.16" r="0.6" fill="#4aa8da"/>
<circle cx="151.40" cy="260.32" r="0.6" fill="#4aa8da"/>
<circle cx="42.40" cy="295.66" r="0.6" fill="#4aa8da"/>
<circle cx="78.60" cy="275.35" r="0.6" fill="#4aa8da"/>
<circle cx="115.00" cy="282.16" r="0.6" fill="#4aa8da"/>
<circle cx="151.40" cy="260.76" r="0.6" fill="#4aa8da"/>
<circle cx="42.40" cy="295.17" r="0.6" fill="#4aa8da"/>
<circle cx="78.60" cy="275.79" r="0.6" fill="#4aa8da"/>
<circle cx="115.00" cy="283.07" r="0.6" fill="#4aa8da"/>
<circle cx="151.40" cy="261.64" r="0.6" fill="#4aa8da"/>
<circle cx="42.40" cy="296.77" r="0.6" fill="#4aa8da"/>
<circle cx="78.60" cy="276.16" r="0.6" fill="#4aa8da"/>
<circle cx="115.00" cy="283.62" r="0.6" fill="#4aa8da"/>
<circle cx="151.40" cy="262.26" r="0.6" fill="#4aa8da"/>
<circle cx="42.40" cy="297.17" r="0.6" fill="#4aa8da"/>
<circle cx="78.60" cy="277.96" r="0.6" fill="#4aa8da"/>
<circle cx="115.00" cy="284.84" r="0.6" fill="#4aa8da"/>
<circle cx="151.40" cy="263.46" r="0.6" fill="#4aa8da"/>
<circle cx="42.40" cy="296.66" r="0.6" fill="#4aa8da"/>
<circle cx="78.60" cy="277.84" r="0.6" fill="#4aa8da"/>
<circle cx="115.00" cy="284.80" r="0.6" fill="#4aa8da"/>
<circle cx="151.40" cy="264.31" r="0.6" fill="#4aa8da"/>
<circle cx="42.40" cy="297.05" r="0.6" fill="#4aa8da"/>
<circle cx="78.60" cy="278.29" r="0.6" fill="#4aa8da"/>
<circle cx="115.00" cy="285.92" r="0.6" fill="#4aa8da"/>
<circle cx="151.40" cy="264.02" r="0.6" fill="#4aa8da"/>
<circle cx="42.40" cy="297.33" r="0.6" fill="#4aa8da"/>
<circle cx="78.60" cy="278.57" r="0.6" fill="#4aa8da"/>
<circle cx="115.00" cy="286.50" r="0.6" fill="#4aa8da"/>
<circle cx="151.40" cy="265.88" r="0.6" fill="#4aa8da"/>
<circle cx="42.40" cy="298.12" r="0.6" fill="#4aa8da"/>
<circle cx="78.60" cy="279.79" r="0.6" fill="#4aa8da"/>
<circle cx="115.00" cy="286.54" r="0.6" fill="#4aa8da"/>
<circle cx="151.40" cy="266.21" r="0.6" fill="#4aa8da"/>
<circle cx="42.40" cy="298.56" r="0.6" fill="#4aa8da"/>
<circle cx="78.60" cy="280.81" r="0.6" fill="#4aa8da"/>
<circle cx="115.00" cy="287.65" r="0.6" fill="#4aa8da"/>
<circle cx="151.40" cy="266.54" r="0.6" fill="#4aa8da"/>
<circle cx="42.40" cy="299.11" r="0.6" fill="#4aa8da"/>
<circle cx="78.60" cy="280.92" r="0.6" fill="#4aa8da"/>
<circle cx="115.00" cy="287.82" r="0.6" fill="#4aa8da"/>
<circle cx="151.40" cy="268.52" r="0.6" fill="#4aa8da"/>
<circle cx="42.40" cy="299.11" r="0.6" fill="#4aa8da"/>
<circle cx="78.60" cy="281.09" r="0.6" fill="#4aa8da"/>
<circle cx="115.00" cy="289.50" r="0.6" fill="#4aa8da"/>
<circle cx="151.40" cy="268.76" r="0.6" fill="#4aa8da"/>
<circle cx="42.40" cy="299.57" r="0.6" fill="#4aa8da"/>
<circle cx="78.60" cy="282.67" r="0.6" fill="#4aa8da"/>
<circle cx="115.00" cy="288.98" r="0.6" fill="#4aa8da"/>
<circle cx="151.40" cy="269.41" r="0.6" fill="#4aa8da"/>
<circle cx="42.40" cy="300.57" r="0.6" fill="#4aa8da"/>
<circle cx="78.60" cy="282.58" r="0.6" fill="#4aa8da"/>
<circle cx="115.00" cy="289.50" r="0.6" fill="#4aa8da"/>
<circle cx="151.40" cy="269.73" r="0.6" fill="#4aa8da"/>
<circle cx="42.40" cy="280.59" r="0.6" fill="#4aa8da"/>
<circle cx="78.60" cy="303.08" r="0.6" fill="#4aa8da"/>
<circle cx="115.00" cy="305.23" r="0.6" fill="#4aa8da"/>
<circle cx="151.40" cy="320.09" r="0.6" fill="#4aa8da"/>
<circle cx="42.40" cy="281.63" r="0.6" fill="#4aa8da"/>
<circle cx="78.60" cy="303.98" r="0.6" fill="#4aa8da"/>
<circle cx="115.00" cy="305.81" r="0.6" fill="#4aa8da"/>
<circle cx="151.40" cy="320.77" r="0.6" fill="#4aa8da"/>
<circle cx="42.40" cy="282.90" r="0.6" fill="#4aa8da"/>
<circle cx="78.60" cy="304.57" r="0.6" fill="#4aa8da"/>
<circle cx="115.00" cy="305.71" r="0.6" fill="#4aa8da"/>
<circle cx="151.40" cy="321.69" r="0.6" fill="#4aa8da"/>
<circle cx="42.40" cy="283.85" r="0.6" fill="#4aa8da"/>
<circle cx="78.60" cy="304.96" r="0.6" fill="#4aa8da"/>
<circle cx="115.00" cy="306.07" r="0.6" fill="#4aa8da"/>
<circle cx="151.40" cy="321.60" r="0.6" fill="#4aa8da"/>
<circle cx="42.40" cy="284.78" r="0.6" fill="#4aa8da"/>
<circle cx="78.60" cy="306.39" r="0.6" fill="#4aa8da"/>
<circle cx="115.00" cy="306.80" r="0.6" fill="#4aa8da"/>
<circle cx="151.40" cy="322.68" r="0.6" fill="#4aa8da"/>
<circle cx="42.40" cy="285.35" r="0.6" fill="#4aa8da"/>
<circle cx="78.60" cy="305.97" r="0.6" fill="#4aa8da"/>
<circle cx="115.00" cy="306.99" r="0.6" fill="#4aa8da"/>
<circle cx="151.40" cy="323.10" r="0.6" fill="#4aa8da"/>
<circle cx="42.40" cy="285.74" r="0.6" fill="#4aa8da"/>
<circle cx="78.60" cy="306.74" r="0.6" fill="#4aa8da"/>
<circle cx="115.00" cy="307.25" r="0.6" fill="#4aa8da"/>
<circle cx="151.40" cy="323.65" r="0.6" fill="#4aa8da"/>
<circle cx="42.40" cy="286.46" r="0.6" fill="#4aa8da"/>
<circle cx="78.60" cy="307.32" r="0.6" fill="#4aa8da"/>
<circle cx="115.00" cy="308.60" r="0.6" fill="#4aa8da"/>
<circle cx="151.40" cy="324.14" r="0.6" fill="#4aa8da"/>
<circle cx="42.40" cy="287.13" r="0.6" fill="#4aa8da"/>
<circle cx="78.60" cy="307.94" r="0.6" fill="#4aa8da"/>
<circle cx="115.00" cy="309.13" r="0.6" fill="#4aa8da"/>
<circle cx="151.40" cy="325.40" r="0.6" fill="#4aa8da"/>
<circle cx="42.40" cy="296.64" r="0.6" fill="#4aa8da"/>
<circle cx="78.60" cy="284.74" r="0.6" fill="#4aa8da"/>
<circle cx="115.00" cy="289.20" r="0.6" fill="#4aa8da"/>
<circle cx="151.40" cy="275.81" r="0.6" fill="#4aa8da"/>
<circle cx="42.40" cy="286.22" r="0.6" fill="#3fb5b0"/>
<circle cx="78.60" cy="295.60" r="0.6" fill="#3fb5b0"/>
<circle cx="115.00" cy="292.47" r="0.6" fill="#3fb5b0"/>
<circle cx="151.40" cy="296.94" r="0.6" fill="#3fb5b0"/>
<circle cx="42.40" cy="295.90" r="0.6" fill="#3fb5b0"/>
<circle cx="78.60" cy="280.27" r="0.6" fill="#3fb5b0"/>
<circle cx="115.00" cy="287.71" r="0.6" fill="#3fb5b0"/>
<circle cx="151.40" cy="266.88" r="0.6" fill="#3fb5b0"/>
<circle cx="42.40" cy="302.89" r="0.6" fill="#ee5f4d"/>
<circle cx="78.60" cy="305.57" r="0.6" fill="#ee5f4d"/>
<circle cx="115.00" cy="292.47" r="0.6" fill="#ee5f4d"/>
<circle cx="151.40" cy="290.54" r="0.6" fill="#ee5f4d"/>
<circle cx="42.40" cy="301.10" r="0.6" fill="#f2c230"/>
<circle cx="78.60" cy="285.03" r="0.6" fill="#f2c230"/>
<circle cx="115.00" cy="272.53" r="0.6" fill="#f2c230"/>
<circle cx="151.40" cy="261.52" r="0.6" fill="#f2c230"/>
<circle cx="42.40" cy="285.33" r="0.6" fill="#f2c230"/>
<circle cx="78.60" cy="304.08" r="0.6" fill="#f2c230"/>
<circle cx="115.00" cy="306.31" r="0.6" fill="#f2c230"/>
<circle cx="151.40" cy="304.68" r="0.6" fill="#f2c230"/>
<circle cx="42.40" cy="284.74" r="0.6" fill="#f2c230"/>
<circle cx="78.60" cy="286.22" r="0.6" fill="#f2c230"/>
<circle cx="115.00" cy="305.87" r="0.6" fill="#f2c230"/>
<circle cx="151.40" cy="304.68" r="0.6" fill="#f2c230"/>
<circle cx="42.40" cy="282.50" r="0.6" fill="#5ab432"/>
<circle cx="78.60" cy="304.97" r="0.6" fill="#5ab432"/>
<circle cx="115.00" cy="304.97" r="0.6" fill="#5ab432"/>
<circle cx="151.40" cy="342.32" r="0.6" fill="#5ab432"/>
<circle cx="42.40" cy="284.74" r="0.6" fill="#5ab432"/>
<circle cx="78.60" cy="311.82" r="0.6" fill="#5ab432"/>
<circle cx="115.00" cy="314.50" r="0.6" fill="#5ab432"/>
<circle cx="151.40" cy="342.32" r="0.6" fill="#5ab432"/>
<circle cx="42.40" cy="283.99" r="0.6" fill="#5ab432"/>
<circle cx="78.60" cy="308.54" r="0.6" fill="#5ab432"/>
<circle cx="115.00" cy="305.57" r="0.6" fill="#5ab432"/>
<circle cx="151.40" cy="341.28" r="0.6" fill="#5ab432"/>
</g>
<g filter="url(#tx)" font-family='"Liberation Sans", sans-serif' font-size="3.92" fill="#111">
<text x="179.6" y="272.7" font-size="3.5">Type</text>
<path d="M181.0 277.50H185.6" stroke="#5ab432" stroke-width="0.4" stroke-opacity="0.85"/>
<circle cx="183.3" cy="277.50" r="0.55" fill="#5ab432" stroke="none"/>
<text x="188.0" y="279.40">Fatty Acids</text>
<path d="M181.0 283.48H185.6" stroke="#f2c230" stroke-width="0.4" stroke-opacity="0.85"/>
<circle cx="183.3" cy="283.48" r="0.55" fill="#f2c230" stroke="none"/>
<text x="188.0" y="285.38">Fluid balance</text>
<path d="M181.0 289.46H185.6" stroke="#ee5f4d" stroke-width="0.4" stroke-opacity="0.85"/>
<circle cx="183.3" cy="289.46" r="0.55" fill="#ee5f4d" stroke="none"/>
<text x="188.0" y="291.36">Glycolysis related metabolites</text>
<path d="M181.0 295.44H185.6" stroke="#3fb5b0" stroke-width="0.4" stroke-opacity="0.85"/>
<circle cx="183.3" cy="295.44" r="0.55" fill="#3fb5b0" stroke="none"/>
<text x="188.0" y="297.34">Lipoprotein Particle Concentrations and Size</text>
<path d="M181.0 301.42H185.6" stroke="#4aa8da" stroke-width="0.4" stroke-opacity="0.85"/>
<circle cx="183.3" cy="301.42" r="0.55" fill="#4aa8da" stroke="none"/>
<text x="188.0" y="303.32">Lipoprotein subclasses</text>
<path d="M181.0 307.40H185.6" stroke="#243240" stroke-width="0.4" stroke-opacity="0.85"/>
<rect x="182.7" y="306.80" width="1.2" height="1.2" fill="#243240" stroke="none"/>
<text x="188.0" y="309.30">Triglycerides</text>
</g>
</svg></body></html>
